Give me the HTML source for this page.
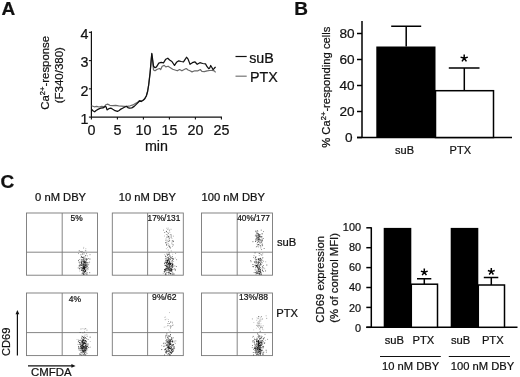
<!DOCTYPE html>
<html><head><meta charset="utf-8"><title>Figure</title>
<style>
html,body{margin:0;padding:0;background:#fff;}
body{width:520px;height:377px;overflow:hidden;font-family:"Liberation Sans",sans-serif;}
svg{display:block;will-change:transform;}
svg text{font-family:"Liberation Sans",sans-serif;fill:#111;stroke:#111;stroke-width:0.22px;}
</style></head><body>
<svg width="520" height="377" viewBox="0 0 520 377">
<rect width="520" height="377" fill="#fff"/>
<text x="1.6" y="14.6" font-size="19" text-anchor="start" font-weight="bold" >A</text>
<text x="294.2" y="14.6" font-size="19" text-anchor="start" font-weight="bold" >B</text>
<text x="0.6" y="188.2" font-size="19" text-anchor="start" font-weight="bold" >C</text>
<path d="M91.4 31.349999999999994 V117.1 H222" fill="none" stroke="#111" stroke-width="1.2"/>
<line x1="88.9" y1="117.1" x2="91.4" y2="117.1" stroke="#111" stroke-width="1.1"/>
<text x="88.4" y="123.8" font-size="14.3" text-anchor="end" font-weight="normal" >1</text>
<line x1="88.9" y1="88.85" x2="91.4" y2="88.85" stroke="#111" stroke-width="1.1"/>
<text x="88.4" y="95.55" font-size="14.3" text-anchor="end" font-weight="normal" >2</text>
<line x1="88.9" y1="60.599999999999994" x2="91.4" y2="60.599999999999994" stroke="#111" stroke-width="1.1"/>
<text x="88.4" y="67.3" font-size="14.3" text-anchor="end" font-weight="normal" >3</text>
<line x1="88.9" y1="32.349999999999994" x2="91.4" y2="32.349999999999994" stroke="#111" stroke-width="1.1"/>
<text x="88.4" y="39.05" font-size="14.3" text-anchor="end" font-weight="normal" >4</text>
<line x1="91.4" y1="117.1" x2="91.4" y2="119.6" stroke="#111" stroke-width="1.1"/>
<text x="91.4" y="135.0" font-size="14.3" text-anchor="middle" font-weight="normal" >0</text>
<line x1="117.4" y1="117.1" x2="117.4" y2="119.6" stroke="#111" stroke-width="1.1"/>
<text x="117.4" y="135.0" font-size="14.3" text-anchor="middle" font-weight="normal" >5</text>
<line x1="143.4" y1="117.1" x2="143.4" y2="119.6" stroke="#111" stroke-width="1.1"/>
<text x="143.4" y="135.0" font-size="14.3" text-anchor="middle" font-weight="normal" >10</text>
<line x1="169.4" y1="117.1" x2="169.4" y2="119.6" stroke="#111" stroke-width="1.1"/>
<text x="169.4" y="135.0" font-size="14.3" text-anchor="middle" font-weight="normal" >15</text>
<line x1="195.4" y1="117.1" x2="195.4" y2="119.6" stroke="#111" stroke-width="1.1"/>
<text x="195.4" y="135.0" font-size="14.3" text-anchor="middle" font-weight="normal" >20</text>
<line x1="221.4" y1="117.1" x2="221.4" y2="119.6" stroke="#111" stroke-width="1.1"/>
<text x="221.4" y="135.0" font-size="14.3" text-anchor="middle" font-weight="normal" >25</text>
<text x="156.4" y="151.0" font-size="14.3" text-anchor="middle" font-weight="normal" >min</text>
<text transform="translate(49.4,72.8) rotate(-90)" font-size="11.4" text-anchor="middle">Ca<tspan font-size="7.6" dy="-4.3">2+</tspan><tspan dy="4.3">-response</tspan></text>
<text transform="translate(63.4,75.2) rotate(-90)" font-size="11.5" text-anchor="middle">(F340/380)</text>
<path d="M91.5 105.8 L94.3 106.8 L96.7 106.4 L99 107 L101.8 106.4 L104.2 106.8 L105.9 104.7 L107.6 104.1 L109.9 105.3 L112.8 105.6 L115.7 105.3 L118.6 105.8 L121.5 106.1 L124.3 106.4 L127.2 106.4 L130.1 105.8 L133 104.9 L135.3 103.5 L137.6 102.2 L139.3 100.7 L141.1 101 L142.8 100.3 L144.5 98.9 L146.3 96.0 L147.6 91.5 L148.7 84.5 L150.1 72.7 L151.3 58.9 L151.8 54 L152.7 62 L153.5 70 L155 70.8 L157.3 69.2 L159.6 68.5 L160.7 69.5 L162.2 66.2 L164.2 65.4 L165.8 66.9 L168.1 66.2 L170.4 67.7 L172.7 69.2 L175 70 L177.3 70.8 L179.6 69.5 L181.9 70.8 L184.2 69.5 L186.2 68.5 L188.1 70 L190 70.8 L192 71.9 L194.8 70.8 L198 70.8 L200.3 69.5 L201.9 71.3 L204.3 71.6 L207.1 70.8 L209.9 70.5 L212.3 70.3 L214.3 70.8 L215.6 72.3" fill="none" stroke="#6a6a6a" stroke-width="1.2" stroke-linejoin="round"/>
<path d="M91.5 109.3 L93.2 111 L94.7 111.8 L96.1 110.5 L98.4 109.1 L100.7 108.2 L103 107.9 L105.1 106.4 L106.2 107 L107 109.9 L108.8 108.7 L111.1 108.2 L112.8 109.3 L115.1 110.7 L117.4 111.4 L119.2 110.5 L120.9 109.1 L122.6 108.2 L124.9 107 L126.7 106.4 L127.8 107.6 L129.5 108.2 L131.8 107.9 L134.2 106.4 L136.5 104.1 L138.8 101.8 L139.9 100.7 L141.3 101.5 L143.2 100.3 L144.8 98.7 L146.3 96.0 L147.6 91.5 L148.7 84.8 L150.1 72.9 L151.3 58.9 L151.8 53.4 L152.7 59.9 L153.5 66.2 L155 67.7 L156.5 66.9 L158.8 63.1 L161.2 62.3 L163.5 62.8 L165.8 59.2 L167.8 58.2 L169.6 60 L171.9 61.5 L174.5 65.4 L176.5 62.3 L178.8 60.8 L181.2 61.5 L183.5 61.8 L185.3 59.2 L186.5 57.2 L188.1 59.2 L189.6 63.1 L190 64.3 L192.4 62.7 L194.8 61.8 L197.2 64.3 L199.9 62.7 L202.7 63.5 L205.5 63.9 L207.1 66.7 L208.7 68.7 L209.7 67.9 L210.7 65.5 L211.9 67.5 L213.1 69.7 L214.3 68.3 L215.6 66.9" fill="none" stroke="#111" stroke-width="1.25" stroke-linejoin="round"/>
<line x1="235.5" y1="56.5" x2="246.7" y2="56.5" stroke="#111" stroke-width="1.2"/>
<line x1="235.5" y1="76.2" x2="246.7" y2="76.2" stroke="#777" stroke-width="1.2"/>
<text x="249.2" y="62.8" font-size="14.3" text-anchor="start" font-weight="normal" >suB</text>
<text x="250.0" y="82.4" font-size="14.3" text-anchor="start" font-weight="normal" >PTX</text>
<path d="M362 21 V137.5 M357 137.5 H512" fill="none" stroke="#000" stroke-width="1.5"/>
<line x1="357" y1="137.5" x2="362" y2="137.5" stroke="#000" stroke-width="1.5"/>
<text x="352.6" y="142.3" font-size="13.6" text-anchor="end" font-weight="normal" >0</text>
<line x1="357" y1="111.5" x2="362" y2="111.5" stroke="#000" stroke-width="1.5"/>
<text x="354.6" y="116.3" font-size="13.6" text-anchor="end" font-weight="normal" >20</text>
<line x1="357" y1="85.5" x2="362" y2="85.5" stroke="#000" stroke-width="1.5"/>
<text x="354.6" y="90.3" font-size="13.6" text-anchor="end" font-weight="normal" >40</text>
<line x1="357" y1="59.5" x2="362" y2="59.5" stroke="#000" stroke-width="1.5"/>
<text x="354.6" y="64.3" font-size="13.6" text-anchor="end" font-weight="normal" >60</text>
<line x1="357" y1="33.5" x2="362" y2="33.5" stroke="#000" stroke-width="1.5"/>
<text x="354.6" y="38.3" font-size="13.6" text-anchor="end" font-weight="normal" >80</text>
<rect x="376.3" y="46.5" width="59.2" height="91.0" fill="#000"/>
<rect x="435.5" y="90.7" width="58" height="46.8" fill="#fff" stroke="#000" stroke-width="1.5"/>
<path d="M406.2 46.5 V26.3 M391.2 26.3 H421.2" stroke="#000" stroke-width="1.5" fill="none"/>
<path d="M464.3 90.5 V68 M448.8 68 H479.5" stroke="#000" stroke-width="1.5" fill="none"/>
<path d="M464.2 58.3 L464.20 54.50 M464.2 58.3 L467.81 57.13 M464.2 58.3 L466.43 61.37 M464.2 58.3 L461.97 61.37 M464.2 58.3 L460.59 57.13 " stroke="#000" stroke-width="1.5" fill="none"/>
<text x="404.5" y="153.5" font-size="11" text-anchor="middle" font-weight="normal" >suB</text>
<text x="460.3" y="153.5" font-size="11" text-anchor="middle" font-weight="normal" >PTX</text>
<text transform="translate(329.8,87.2) rotate(-90)" font-size="11.25" text-anchor="middle">% Ca<tspan font-size="7.6" dy="-4.3">2+</tspan><tspan dy="4.3">-responding cells</tspan></text>
<rect x="26.5" y="213" width="71.0" height="62.19999999999999" fill="none" stroke="#787878" stroke-width="0.9"/>
<path d="M62.2 213 V275.2 M26.5 252.2 H97.5" stroke="#787878" stroke-width="0.9" fill="none"/>
<rect x="26.5" y="293" width="71.0" height="62.60000000000002" fill="none" stroke="#787878" stroke-width="0.9"/>
<path d="M62.2 293 V355.6 M26.5 332.6 H97.5" stroke="#787878" stroke-width="0.9" fill="none"/>
<rect x="112.3" y="213" width="71.00000000000001" height="62.19999999999999" fill="none" stroke="#787878" stroke-width="0.9"/>
<path d="M147.6 213 V275.2 M112.3 252.2 H183.3" stroke="#787878" stroke-width="0.9" fill="none"/>
<rect x="112.3" y="293" width="71.00000000000001" height="62.60000000000002" fill="none" stroke="#787878" stroke-width="0.9"/>
<path d="M147.6 293 V355.6 M112.3 332.6 H183.3" stroke="#787878" stroke-width="0.9" fill="none"/>
<rect x="201.5" y="213" width="71.0" height="62.19999999999999" fill="none" stroke="#787878" stroke-width="0.9"/>
<path d="M237.2 213 V275.2 M201.5 252.2 H272.5" stroke="#787878" stroke-width="0.9" fill="none"/>
<rect x="201.5" y="293" width="71.0" height="62.60000000000002" fill="none" stroke="#787878" stroke-width="0.9"/>
<path d="M237.2 293 V355.6 M201.5 332.6 H272.5" stroke="#787878" stroke-width="0.9" fill="none"/>
<text x="60.6" y="201.3" font-size="11.2" text-anchor="middle" font-weight="normal" >0 nM DBY</text>
<text x="147.3" y="201.3" font-size="11.2" text-anchor="middle" font-weight="normal" >10 nM DBY</text>
<text x="233.3" y="201.3" font-size="11.2" text-anchor="middle" font-weight="normal" >100 nM DBY</text>
<text x="76.6" y="220.9" font-size="8.4" text-anchor="middle" font-weight="normal" >5%</text>
<text x="163.9" y="220.9" font-size="8.3" text-anchor="middle" font-weight="normal" >17%/131</text>
<text x="253.6" y="220.9" font-size="8.3" text-anchor="middle" font-weight="normal" >40%/177</text>
<text x="75" y="301.8" font-size="8.5" text-anchor="middle" font-weight="normal" >4%</text>
<text x="164.3" y="300.0" font-size="8.6" text-anchor="middle" font-weight="normal" >9%/62</text>
<text x="253.5" y="300.0" font-size="8.5" text-anchor="middle" font-weight="normal" >13%/88</text>
<text x="277" y="245.5" font-size="11.2" text-anchor="start" font-weight="normal" >suB</text>
<text x="276.2" y="316.8" font-size="11.2" text-anchor="start" font-weight="normal" >PTX</text>
<path d="M17.4 355.5 V313" stroke="#111" stroke-width="1.2" fill="none"/><path d="M17.4 310 L15.5 314.2 H19.3 Z" fill="#111"/>
<path d="M28 365.9 H72.5" stroke="#111" stroke-width="1.2" fill="none"/><path d="M75.6 365.9 L71.4 364 V367.8 Z" fill="#111"/>
<text transform="translate(10.0,341.8) rotate(-90)" font-size="11.1" text-anchor="middle">CD69</text>
<text x="51.3" y="375.8" font-size="11.4" text-anchor="middle" font-weight="normal" >CMFDA</text>
<rect x="82.6" y="268.6" width="0.85" height="0.85" fill="#000" opacity="0.66"/>
<rect x="85.8" y="268.8" width="0.85" height="0.85" fill="#000" opacity="0.50"/>
<rect x="85.8" y="268.0" width="0.85" height="0.85" fill="#000" opacity="0.32"/>
<rect x="82.4" y="266.4" width="0.85" height="0.85" fill="#000" opacity="0.35"/>
<rect x="79.4" y="270.6" width="0.85" height="0.85" fill="#000" opacity="0.37"/>
<rect x="83.7" y="273.8" width="0.85" height="0.85" fill="#000" opacity="0.82"/>
<rect x="81.2" y="262.7" width="0.85" height="0.85" fill="#000" opacity="0.84"/>
<rect x="87.6" y="268.9" width="0.85" height="0.85" fill="#000" opacity="0.46"/>
<rect x="83.9" y="267.9" width="0.85" height="0.85" fill="#000" opacity="0.47"/>
<rect x="83.8" y="262.0" width="0.85" height="0.85" fill="#000" opacity="0.62"/>
<rect x="81.8" y="261.1" width="0.85" height="0.85" fill="#000" opacity="0.60"/>
<rect x="83.9" y="266.3" width="0.85" height="0.85" fill="#000" opacity="0.41"/>
<rect x="82.2" y="259.8" width="0.85" height="0.85" fill="#000" opacity="0.47"/>
<rect x="81.0" y="262.1" width="0.85" height="0.85" fill="#000" opacity="0.46"/>
<rect x="84.2" y="256.6" width="0.85" height="0.85" fill="#000" opacity="0.43"/>
<rect x="80.7" y="262.2" width="0.85" height="0.85" fill="#000" opacity="0.78"/>
<rect x="83.0" y="260.6" width="0.85" height="0.85" fill="#000" opacity="0.84"/>
<rect x="85.0" y="269.7" width="0.85" height="0.85" fill="#000" opacity="0.72"/>
<rect x="84.7" y="271.2" width="0.85" height="0.85" fill="#000" opacity="0.32"/>
<rect x="81.3" y="256.6" width="0.85" height="0.85" fill="#000" opacity="0.62"/>
<rect x="84.6" y="261.8" width="0.85" height="0.85" fill="#000" opacity="0.68"/>
<rect x="80.7" y="261.1" width="0.85" height="0.85" fill="#000" opacity="0.55"/>
<rect x="86.2" y="253.3" width="0.85" height="0.85" fill="#000" opacity="0.56"/>
<rect x="82.8" y="263.7" width="0.85" height="0.85" fill="#000" opacity="0.69"/>
<rect x="78.8" y="250.4" width="0.85" height="0.85" fill="#000" opacity="0.75"/>
<rect x="82.7" y="271.3" width="0.85" height="0.85" fill="#000" opacity="0.67"/>
<rect x="85.7" y="266.4" width="0.85" height="0.85" fill="#000" opacity="0.39"/>
<rect x="83.8" y="266.9" width="0.85" height="0.85" fill="#000" opacity="0.72"/>
<rect x="84.4" y="268.8" width="0.85" height="0.85" fill="#000" opacity="0.52"/>
<rect x="83.9" y="263.7" width="0.85" height="0.85" fill="#000" opacity="0.55"/>
<rect x="78.7" y="261.7" width="0.85" height="0.85" fill="#000" opacity="0.75"/>
<rect x="84.4" y="261.8" width="0.85" height="0.85" fill="#000" opacity="0.53"/>
<rect x="84.5" y="264.6" width="0.85" height="0.85" fill="#000" opacity="0.40"/>
<rect x="83.4" y="269.8" width="0.85" height="0.85" fill="#000" opacity="0.57"/>
<rect x="81.7" y="263.0" width="0.85" height="0.85" fill="#000" opacity="0.30"/>
<rect x="81.3" y="268.3" width="0.85" height="0.85" fill="#000" opacity="0.61"/>
<rect x="86.6" y="262.8" width="0.85" height="0.85" fill="#000" opacity="0.58"/>
<rect x="80.6" y="259.4" width="0.85" height="0.85" fill="#000" opacity="0.33"/>
<rect x="86.4" y="259.3" width="0.85" height="0.85" fill="#000" opacity="0.78"/>
<rect x="83.9" y="259.8" width="0.85" height="0.85" fill="#000" opacity="0.52"/>
<rect x="85.8" y="270.7" width="0.85" height="0.85" fill="#000" opacity="0.33"/>
<rect x="84.6" y="267.2" width="0.85" height="0.85" fill="#000" opacity="0.39"/>
<rect x="82.8" y="267.2" width="0.85" height="0.85" fill="#000" opacity="0.30"/>
<rect x="83.8" y="267.8" width="0.85" height="0.85" fill="#000" opacity="0.50"/>
<rect x="87.8" y="267.4" width="0.85" height="0.85" fill="#000" opacity="0.64"/>
<rect x="84.2" y="269.2" width="0.85" height="0.85" fill="#000" opacity="0.49"/>
<rect x="82.4" y="267.8" width="0.85" height="0.85" fill="#000" opacity="0.77"/>
<rect x="85.8" y="265.2" width="0.85" height="0.85" fill="#000" opacity="0.57"/>
<rect x="84.1" y="266.9" width="0.85" height="0.85" fill="#000" opacity="0.49"/>
<rect x="83.5" y="266.6" width="0.85" height="0.85" fill="#000" opacity="0.82"/>
<rect x="81.9" y="264.9" width="0.85" height="0.85" fill="#000" opacity="0.60"/>
<rect x="86.0" y="266.7" width="0.85" height="0.85" fill="#000" opacity="0.84"/>
<rect x="85.5" y="258.5" width="0.85" height="0.85" fill="#000" opacity="0.44"/>
<rect x="82.3" y="268.2" width="0.85" height="0.85" fill="#000" opacity="0.72"/>
<rect x="79.3" y="263.4" width="0.85" height="0.85" fill="#000" opacity="0.48"/>
<rect x="87.7" y="264.4" width="0.85" height="0.85" fill="#000" opacity="0.74"/>
<rect x="84.8" y="256.5" width="0.85" height="0.85" fill="#000" opacity="0.42"/>
<rect x="81.1" y="264.9" width="0.85" height="0.85" fill="#000" opacity="0.32"/>
<rect x="85.0" y="266.3" width="0.85" height="0.85" fill="#000" opacity="0.44"/>
<rect x="81.2" y="251.4" width="0.85" height="0.85" fill="#000" opacity="0.55"/>
<rect x="89.5" y="258.6" width="0.85" height="0.85" fill="#000" opacity="0.83"/>
<rect x="82.1" y="268.7" width="0.85" height="0.85" fill="#000" opacity="0.42"/>
<rect x="83.7" y="269.3" width="0.85" height="0.85" fill="#000" opacity="0.64"/>
<rect x="86.8" y="258.8" width="0.85" height="0.85" fill="#000" opacity="0.56"/>
<rect x="80.8" y="256.7" width="0.85" height="0.85" fill="#000" opacity="0.35"/>
<rect x="80.5" y="254.4" width="0.85" height="0.85" fill="#000" opacity="0.73"/>
<rect x="83.2" y="258.7" width="0.85" height="0.85" fill="#000" opacity="0.40"/>
<rect x="83.7" y="260.3" width="0.85" height="0.85" fill="#000" opacity="0.74"/>
<rect x="85.5" y="264.4" width="0.85" height="0.85" fill="#000" opacity="0.52"/>
<rect x="86.7" y="262.3" width="0.85" height="0.85" fill="#000" opacity="0.39"/>
<rect x="84.1" y="268.0" width="0.85" height="0.85" fill="#000" opacity="0.80"/>
<rect x="83.6" y="262.3" width="0.85" height="0.85" fill="#000" opacity="0.75"/>
<rect x="86.5" y="264.4" width="0.85" height="0.85" fill="#000" opacity="0.49"/>
<rect x="82.0" y="264.5" width="0.85" height="0.85" fill="#000" opacity="0.31"/>
<rect x="86.5" y="263.9" width="0.85" height="0.85" fill="#000" opacity="0.59"/>
<rect x="85.4" y="262.9" width="0.85" height="0.85" fill="#000" opacity="0.78"/>
<rect x="83.9" y="261.8" width="0.85" height="0.85" fill="#000" opacity="0.44"/>
<rect x="82.7" y="269.8" width="0.85" height="0.85" fill="#000" opacity="0.62"/>
<rect x="83.1" y="271.7" width="0.85" height="0.85" fill="#000" opacity="0.37"/>
<rect x="85.0" y="262.5" width="0.85" height="0.85" fill="#000" opacity="0.55"/>
<rect x="78.9" y="259.0" width="0.85" height="0.85" fill="#000" opacity="0.53"/>
<rect x="85.6" y="262.0" width="0.85" height="0.85" fill="#000" opacity="0.59"/>
<rect x="82.8" y="265.3" width="0.85" height="0.85" fill="#000" opacity="0.54"/>
<rect x="83.3" y="266.0" width="0.85" height="0.85" fill="#000" opacity="0.74"/>
<rect x="84.4" y="271.5" width="0.85" height="0.85" fill="#000" opacity="0.70"/>
<rect x="81.3" y="263.6" width="0.85" height="0.85" fill="#000" opacity="0.59"/>
<rect x="79.4" y="261.9" width="0.85" height="0.85" fill="#000" opacity="0.36"/>
<rect x="81.6" y="263.8" width="0.85" height="0.85" fill="#000" opacity="0.45"/>
<rect x="83.6" y="258.4" width="0.85" height="0.85" fill="#000" opacity="0.61"/>
<rect x="83.5" y="252.3" width="0.85" height="0.85" fill="#000" opacity="0.54"/>
<rect x="81.1" y="260.9" width="0.85" height="0.85" fill="#000" opacity="0.58"/>
<rect x="82.3" y="259.3" width="0.85" height="0.85" fill="#000" opacity="0.59"/>
<rect x="77.8" y="267.5" width="0.85" height="0.85" fill="#000" opacity="0.68"/>
<rect x="87.1" y="255.5" width="0.85" height="0.85" fill="#000" opacity="0.44"/>
<rect x="78.1" y="260.2" width="0.85" height="0.85" fill="#000" opacity="0.76"/>
<rect x="84.0" y="267.8" width="0.85" height="0.85" fill="#000" opacity="0.54"/>
<rect x="84.7" y="267.5" width="0.85" height="0.85" fill="#000" opacity="0.34"/>
<rect x="81.2" y="256.3" width="0.85" height="0.85" fill="#000" opacity="0.79"/>
<rect x="85.3" y="273.4" width="0.85" height="0.85" fill="#000" opacity="0.66"/>
<rect x="84.8" y="264.6" width="0.85" height="0.85" fill="#000" opacity="0.82"/>
<rect x="81.1" y="269.6" width="0.85" height="0.85" fill="#000" opacity="0.84"/>
<rect x="83.9" y="262.4" width="0.85" height="0.85" fill="#000" opacity="0.54"/>
<rect x="81.1" y="265.0" width="0.85" height="0.85" fill="#000" opacity="0.41"/>
<rect x="81.7" y="274.2" width="0.85" height="0.85" fill="#000" opacity="0.31"/>
<rect x="80.9" y="263.3" width="0.85" height="0.85" fill="#000" opacity="0.31"/>
<rect x="81.6" y="272.8" width="0.85" height="0.85" fill="#000" opacity="0.58"/>
<rect x="89.3" y="272.3" width="0.85" height="0.85" fill="#000" opacity="0.73"/>
<rect x="84.3" y="265.0" width="0.85" height="0.85" fill="#000" opacity="0.45"/>
<rect x="87.1" y="268.1" width="0.85" height="0.85" fill="#000" opacity="0.45"/>
<rect x="84.9" y="270.1" width="0.85" height="0.85" fill="#000" opacity="0.80"/>
<rect x="83.9" y="261.3" width="0.85" height="0.85" fill="#000" opacity="0.38"/>
<rect x="85.8" y="261.7" width="0.85" height="0.85" fill="#000" opacity="0.69"/>
<rect x="83.9" y="266.6" width="0.85" height="0.85" fill="#000" opacity="0.68"/>
<rect x="82.4" y="266.6" width="0.85" height="0.85" fill="#000" opacity="0.82"/>
<rect x="80.5" y="257.4" width="0.85" height="0.85" fill="#000" opacity="0.35"/>
<rect x="83.7" y="263.8" width="0.85" height="0.85" fill="#000" opacity="0.77"/>
<rect x="81.2" y="267.1" width="0.85" height="0.85" fill="#000" opacity="0.60"/>
<rect x="84.8" y="263.4" width="0.85" height="0.85" fill="#000" opacity="0.37"/>
<rect x="81.5" y="264.8" width="0.85" height="0.85" fill="#000" opacity="0.36"/>
<rect x="83.6" y="267.1" width="0.85" height="0.85" fill="#000" opacity="0.41"/>
<rect x="82.5" y="270.2" width="0.85" height="0.85" fill="#000" opacity="0.72"/>
<rect x="82.5" y="272.3" width="0.85" height="0.85" fill="#000" opacity="0.40"/>
<rect x="82.9" y="266.4" width="0.85" height="0.85" fill="#000" opacity="0.44"/>
<rect x="86.9" y="266.4" width="0.85" height="0.85" fill="#000" opacity="0.60"/>
<rect x="84.2" y="271.8" width="0.85" height="0.85" fill="#000" opacity="0.81"/>
<rect x="86.5" y="272.4" width="0.85" height="0.85" fill="#000" opacity="0.54"/>
<rect x="78.8" y="265.9" width="0.85" height="0.85" fill="#000" opacity="0.52"/>
<rect x="79.7" y="265.1" width="0.85" height="0.85" fill="#000" opacity="0.84"/>
<rect x="82.3" y="257.3" width="0.85" height="0.85" fill="#000" opacity="0.52"/>
<rect x="82.8" y="267.1" width="0.85" height="0.85" fill="#000" opacity="0.37"/>
<rect x="86.6" y="269.7" width="0.85" height="0.85" fill="#000" opacity="0.44"/>
<rect x="83.7" y="267.7" width="0.85" height="0.85" fill="#000" opacity="0.76"/>
<rect x="85.6" y="259.0" width="0.85" height="0.85" fill="#000" opacity="0.46"/>
<rect x="83.3" y="270.5" width="0.85" height="0.85" fill="#000" opacity="0.55"/>
<rect x="84.6" y="270.9" width="0.85" height="0.85" fill="#000" opacity="0.44"/>
<rect x="89.2" y="261.7" width="0.85" height="0.85" fill="#000" opacity="0.60"/>
<rect x="82.4" y="270.7" width="0.85" height="0.85" fill="#000" opacity="0.30"/>
<rect x="81.3" y="270.1" width="0.85" height="0.85" fill="#000" opacity="0.58"/>
<rect x="84.0" y="272.3" width="0.85" height="0.85" fill="#000" opacity="0.30"/>
<rect x="83.1" y="268.1" width="0.85" height="0.85" fill="#000" opacity="0.52"/>
<rect x="83.7" y="265.8" width="0.85" height="0.85" fill="#000" opacity="0.47"/>
<rect x="83.5" y="273.4" width="0.85" height="0.85" fill="#000" opacity="0.59"/>
<rect x="83.2" y="256.7" width="0.85" height="0.85" fill="#000" opacity="0.69"/>
<rect x="84.9" y="261.4" width="0.85" height="0.85" fill="#000" opacity="0.48"/>
<rect x="84.5" y="265.2" width="0.85" height="0.85" fill="#000" opacity="0.70"/>
<rect x="82.8" y="264.1" width="0.85" height="0.85" fill="#000" opacity="0.76"/>
<rect x="85.7" y="260.2" width="0.85" height="0.85" fill="#000" opacity="0.70"/>
<rect x="83.7" y="262.5" width="0.85" height="0.85" fill="#000" opacity="0.59"/>
<rect x="78.8" y="265.2" width="0.85" height="0.85" fill="#000" opacity="0.74"/>
<rect x="84.6" y="258.5" width="0.85" height="0.85" fill="#000" opacity="0.79"/>
<rect x="81.8" y="257.1" width="0.85" height="0.85" fill="#000" opacity="0.43"/>
<rect x="84.4" y="266.1" width="0.85" height="0.85" fill="#000" opacity="0.50"/>
<rect x="86.7" y="272.5" width="0.85" height="0.85" fill="#000" opacity="0.61"/>
<rect x="81.0" y="259.4" width="0.85" height="0.85" fill="#000" opacity="0.67"/>
<rect x="83.0" y="265.5" width="0.85" height="0.85" fill="#000" opacity="0.74"/>
<rect x="83.2" y="258.4" width="0.85" height="0.85" fill="#000" opacity="0.59"/>
<rect x="82.7" y="263.6" width="0.85" height="0.85" fill="#000" opacity="0.71"/>
<rect x="83.2" y="267.9" width="0.85" height="0.85" fill="#000" opacity="0.45"/>
<rect x="83.0" y="261.5" width="0.85" height="0.85" fill="#000" opacity="0.71"/>
<rect x="85.9" y="264.4" width="0.85" height="0.85" fill="#000" opacity="0.51"/>
<rect x="79.7" y="266.7" width="0.85" height="0.85" fill="#000" opacity="0.72"/>
<rect x="80.8" y="259.7" width="0.85" height="0.85" fill="#000" opacity="0.34"/>
<rect x="84.3" y="269.2" width="0.85" height="0.85" fill="#000" opacity="0.71"/>
<rect x="82.2" y="272.8" width="0.85" height="0.85" fill="#000" opacity="0.31"/>
<rect x="84.9" y="267.3" width="0.85" height="0.85" fill="#000" opacity="0.67"/>
<rect x="82.0" y="257.1" width="0.85" height="0.85" fill="#000" opacity="0.46"/>
<rect x="80.6" y="264.8" width="0.85" height="0.85" fill="#000" opacity="0.56"/>
<rect x="86.8" y="274.1" width="0.85" height="0.85" fill="#000" opacity="0.41"/>
<rect x="88.5" y="263.6" width="0.85" height="0.85" fill="#000" opacity="0.31"/>
<rect x="79.1" y="268.3" width="0.85" height="0.85" fill="#000" opacity="0.83"/>
<rect x="81.5" y="267.0" width="0.85" height="0.85" fill="#000" opacity="0.42"/>
<rect x="84.7" y="264.1" width="0.85" height="0.85" fill="#000" opacity="0.62"/>
<rect x="85.0" y="271.2" width="0.85" height="0.85" fill="#000" opacity="0.82"/>
<rect x="86.1" y="273.7" width="0.85" height="0.85" fill="#000" opacity="0.58"/>
<rect x="85.9" y="259.4" width="0.85" height="0.85" fill="#000" opacity="0.43"/>
<rect x="85.3" y="261.4" width="0.85" height="0.85" fill="#000" opacity="0.31"/>
<rect x="85.9" y="265.7" width="0.85" height="0.85" fill="#000" opacity="0.55"/>
<rect x="82.8" y="268.6" width="0.85" height="0.85" fill="#000" opacity="0.49"/>
<rect x="87.0" y="265.6" width="0.85" height="0.85" fill="#000" opacity="0.76"/>
<rect x="82.1" y="252.9" width="0.85" height="0.85" fill="#000" opacity="0.46"/>
<rect x="81.6" y="269.8" width="0.85" height="0.85" fill="#000" opacity="0.85"/>
<rect x="81.4" y="262.5" width="0.85" height="0.85" fill="#000" opacity="0.54"/>
<rect x="83.1" y="267.4" width="0.85" height="0.85" fill="#000" opacity="0.36"/>
<rect x="84.2" y="261.3" width="0.85" height="0.85" fill="#000" opacity="0.81"/>
<rect x="83.2" y="270.2" width="0.85" height="0.85" fill="#000" opacity="0.58"/>
<rect x="84.0" y="270.9" width="0.85" height="0.85" fill="#000" opacity="0.83"/>
<rect x="86.3" y="258.2" width="0.85" height="0.85" fill="#000" opacity="0.65"/>
<rect x="87.9" y="258.1" width="0.85" height="0.85" fill="#000" opacity="0.60"/>
<rect x="83.1" y="263.6" width="0.85" height="0.85" fill="#000" opacity="0.70"/>
<rect x="79.5" y="268.5" width="0.85" height="0.85" fill="#000" opacity="0.65"/>
<rect x="83.0" y="267.4" width="0.85" height="0.85" fill="#000" opacity="0.81"/>
<rect x="85.0" y="270.4" width="0.85" height="0.85" fill="#000" opacity="0.49"/>
<rect x="85.0" y="264.8" width="0.85" height="0.85" fill="#000" opacity="0.66"/>
<rect x="82.3" y="272.8" width="0.85" height="0.85" fill="#000" opacity="0.52"/>
<rect x="83.9" y="268.6" width="0.85" height="0.85" fill="#000" opacity="0.41"/>
<rect x="85.4" y="261.6" width="0.85" height="0.85" fill="#000" opacity="0.42"/>
<rect x="89.6" y="254.3" width="0.85" height="0.85" fill="#000" opacity="0.55"/>
<rect x="84.2" y="268.5" width="0.85" height="0.85" fill="#000" opacity="0.35"/>
<rect x="82.7" y="267.7" width="0.85" height="0.85" fill="#000" opacity="0.43"/>
<rect x="83.0" y="273.3" width="0.85" height="0.85" fill="#000" opacity="0.79"/>
<rect x="83.2" y="259.3" width="0.85" height="0.85" fill="#000" opacity="0.53"/>
<rect x="81.0" y="264.6" width="0.85" height="0.85" fill="#000" opacity="0.49"/>
<rect x="84.9" y="267.3" width="0.85" height="0.85" fill="#000" opacity="0.83"/>
<rect x="85.1" y="270.5" width="0.85" height="0.85" fill="#000" opacity="0.65"/>
<rect x="84.2" y="262.3" width="0.85" height="0.85" fill="#000" opacity="0.45"/>
<rect x="83.2" y="271.6" width="0.85" height="0.85" fill="#000" opacity="0.55"/>
<rect x="87.5" y="262.2" width="0.85" height="0.85" fill="#000" opacity="0.78"/>
<rect x="83.8" y="265.7" width="0.85" height="0.85" fill="#000" opacity="0.69"/>
<rect x="85.3" y="261.4" width="0.85" height="0.85" fill="#000" opacity="0.62"/>
<rect x="85.5" y="265.5" width="0.85" height="0.85" fill="#000" opacity="0.81"/>
<rect x="85.3" y="255.0" width="0.85" height="0.85" fill="#000" opacity="0.83"/>
<rect x="83.2" y="268.4" width="0.85" height="0.85" fill="#000" opacity="0.38"/>
<rect x="79.8" y="264.2" width="0.85" height="0.85" fill="#000" opacity="0.82"/>
<rect x="82.6" y="257.0" width="0.85" height="0.85" fill="#000" opacity="0.72"/>
<rect x="80.4" y="267.5" width="0.85" height="0.85" fill="#000" opacity="0.32"/>
<rect x="83.5" y="261.2" width="0.85" height="0.85" fill="#000" opacity="0.81"/>
<rect x="82.0" y="261.5" width="0.85" height="0.85" fill="#000" opacity="0.37"/>
<rect x="83.2" y="274.0" width="0.85" height="0.85" fill="#000" opacity="0.68"/>
<rect x="83.9" y="267.0" width="0.85" height="0.85" fill="#000" opacity="0.59"/>
<rect x="81.2" y="262.5" width="0.85" height="0.85" fill="#000" opacity="0.42"/>
<rect x="82.9" y="265.0" width="0.85" height="0.85" fill="#000" opacity="0.47"/>
<rect x="78.1" y="253.2" width="0.85" height="0.85" fill="#000" opacity="0.48"/>
<rect x="85.4" y="248.3" width="0.85" height="0.85" fill="#000" opacity="0.33"/>
<rect x="83.0" y="248.1" width="0.85" height="0.85" fill="#000" opacity="0.26"/>
<rect x="80.2" y="251.1" width="0.85" height="0.85" fill="#000" opacity="0.40"/>
<rect x="84.9" y="249.9" width="0.85" height="0.85" fill="#000" opacity="0.26"/>
<rect x="82.3" y="254.1" width="0.85" height="0.85" fill="#000" opacity="0.49"/>
<rect x="83.3" y="246.9" width="0.85" height="0.85" fill="#000" opacity="0.32"/>
<rect x="85.4" y="250.4" width="0.85" height="0.85" fill="#000" opacity="0.54"/>
<rect x="83.7" y="253.5" width="0.85" height="0.85" fill="#000" opacity="0.52"/>
<rect x="82.1" y="251.1" width="0.85" height="0.85" fill="#000" opacity="0.33"/>
<rect x="165.1" y="269.4" width="0.85" height="0.85" fill="#000" opacity="0.82"/>
<rect x="170.6" y="269.8" width="0.85" height="0.85" fill="#000" opacity="0.42"/>
<rect x="170.4" y="264.5" width="0.85" height="0.85" fill="#000" opacity="0.33"/>
<rect x="171.5" y="267.2" width="0.85" height="0.85" fill="#000" opacity="0.79"/>
<rect x="172.3" y="258.5" width="0.85" height="0.85" fill="#000" opacity="0.85"/>
<rect x="171.2" y="262.8" width="0.85" height="0.85" fill="#000" opacity="0.40"/>
<rect x="173.2" y="261.1" width="0.85" height="0.85" fill="#000" opacity="0.32"/>
<rect x="167.4" y="260.0" width="0.85" height="0.85" fill="#000" opacity="0.51"/>
<rect x="167.9" y="268.2" width="0.85" height="0.85" fill="#000" opacity="0.30"/>
<rect x="168.3" y="270.5" width="0.85" height="0.85" fill="#000" opacity="0.83"/>
<rect x="169.5" y="270.4" width="0.85" height="0.85" fill="#000" opacity="0.75"/>
<rect x="170.1" y="259.3" width="0.85" height="0.85" fill="#000" opacity="0.33"/>
<rect x="166.0" y="266.0" width="0.85" height="0.85" fill="#000" opacity="0.81"/>
<rect x="169.8" y="270.3" width="0.85" height="0.85" fill="#000" opacity="0.79"/>
<rect x="171.7" y="266.2" width="0.85" height="0.85" fill="#000" opacity="0.75"/>
<rect x="168.9" y="263.3" width="0.85" height="0.85" fill="#000" opacity="0.32"/>
<rect x="174.8" y="270.2" width="0.85" height="0.85" fill="#000" opacity="0.44"/>
<rect x="168.7" y="252.2" width="0.85" height="0.85" fill="#000" opacity="0.49"/>
<rect x="167.1" y="261.9" width="0.85" height="0.85" fill="#000" opacity="0.69"/>
<rect x="167.9" y="269.4" width="0.85" height="0.85" fill="#000" opacity="0.30"/>
<rect x="164.2" y="254.3" width="0.85" height="0.85" fill="#000" opacity="0.31"/>
<rect x="169.1" y="271.8" width="0.85" height="0.85" fill="#000" opacity="0.83"/>
<rect x="171.5" y="263.3" width="0.85" height="0.85" fill="#000" opacity="0.44"/>
<rect x="165.7" y="268.0" width="0.85" height="0.85" fill="#000" opacity="0.81"/>
<rect x="168.4" y="253.9" width="0.85" height="0.85" fill="#000" opacity="0.73"/>
<rect x="166.8" y="261.7" width="0.85" height="0.85" fill="#000" opacity="0.48"/>
<rect x="165.5" y="273.0" width="0.85" height="0.85" fill="#000" opacity="0.34"/>
<rect x="168.8" y="267.2" width="0.85" height="0.85" fill="#000" opacity="0.32"/>
<rect x="166.4" y="263.3" width="0.85" height="0.85" fill="#000" opacity="0.84"/>
<rect x="175.2" y="253.1" width="0.85" height="0.85" fill="#000" opacity="0.45"/>
<rect x="169.9" y="266.4" width="0.85" height="0.85" fill="#000" opacity="0.57"/>
<rect x="168.0" y="258.7" width="0.85" height="0.85" fill="#000" opacity="0.43"/>
<rect x="165.3" y="269.2" width="0.85" height="0.85" fill="#000" opacity="0.67"/>
<rect x="168.7" y="253.4" width="0.85" height="0.85" fill="#000" opacity="0.67"/>
<rect x="172.8" y="272.9" width="0.85" height="0.85" fill="#000" opacity="0.46"/>
<rect x="166.2" y="262.6" width="0.85" height="0.85" fill="#000" opacity="0.71"/>
<rect x="169.5" y="269.3" width="0.85" height="0.85" fill="#000" opacity="0.43"/>
<rect x="166.5" y="262.5" width="0.85" height="0.85" fill="#000" opacity="0.52"/>
<rect x="172.2" y="264.7" width="0.85" height="0.85" fill="#000" opacity="0.43"/>
<rect x="170.3" y="256.8" width="0.85" height="0.85" fill="#000" opacity="0.85"/>
<rect x="171.4" y="269.1" width="0.85" height="0.85" fill="#000" opacity="0.75"/>
<rect x="172.3" y="253.8" width="0.85" height="0.85" fill="#000" opacity="0.32"/>
<rect x="168.4" y="267.9" width="0.85" height="0.85" fill="#000" opacity="0.40"/>
<rect x="172.6" y="263.7" width="0.85" height="0.85" fill="#000" opacity="0.81"/>
<rect x="164.8" y="273.7" width="0.85" height="0.85" fill="#000" opacity="0.55"/>
<rect x="170.1" y="264.1" width="0.85" height="0.85" fill="#000" opacity="0.63"/>
<rect x="167.3" y="262.1" width="0.85" height="0.85" fill="#000" opacity="0.50"/>
<rect x="170.0" y="268.1" width="0.85" height="0.85" fill="#000" opacity="0.44"/>
<rect x="165.4" y="259.9" width="0.85" height="0.85" fill="#000" opacity="0.41"/>
<rect x="171.4" y="265.4" width="0.85" height="0.85" fill="#000" opacity="0.67"/>
<rect x="169.8" y="269.8" width="0.85" height="0.85" fill="#000" opacity="0.41"/>
<rect x="169.8" y="257.7" width="0.85" height="0.85" fill="#000" opacity="0.33"/>
<rect x="171.1" y="268.6" width="0.85" height="0.85" fill="#000" opacity="0.60"/>
<rect x="168.0" y="263.0" width="0.85" height="0.85" fill="#000" opacity="0.39"/>
<rect x="167.8" y="259.2" width="0.85" height="0.85" fill="#000" opacity="0.46"/>
<rect x="167.4" y="272.2" width="0.85" height="0.85" fill="#000" opacity="0.50"/>
<rect x="163.8" y="271.0" width="0.85" height="0.85" fill="#000" opacity="0.85"/>
<rect x="167.5" y="268.0" width="0.85" height="0.85" fill="#000" opacity="0.70"/>
<rect x="168.9" y="265.6" width="0.85" height="0.85" fill="#000" opacity="0.80"/>
<rect x="164.0" y="270.1" width="0.85" height="0.85" fill="#000" opacity="0.52"/>
<rect x="171.2" y="260.5" width="0.85" height="0.85" fill="#000" opacity="0.39"/>
<rect x="172.5" y="265.7" width="0.85" height="0.85" fill="#000" opacity="0.65"/>
<rect x="169.9" y="263.6" width="0.85" height="0.85" fill="#000" opacity="0.64"/>
<rect x="166.4" y="270.2" width="0.85" height="0.85" fill="#000" opacity="0.38"/>
<rect x="168.1" y="272.1" width="0.85" height="0.85" fill="#000" opacity="0.81"/>
<rect x="171.4" y="269.4" width="0.85" height="0.85" fill="#000" opacity="0.74"/>
<rect x="170.7" y="264.2" width="0.85" height="0.85" fill="#000" opacity="0.37"/>
<rect x="176.2" y="259.3" width="0.85" height="0.85" fill="#000" opacity="0.57"/>
<rect x="175.1" y="269.5" width="0.85" height="0.85" fill="#000" opacity="0.51"/>
<rect x="172.1" y="260.3" width="0.85" height="0.85" fill="#000" opacity="0.75"/>
<rect x="171.5" y="273.9" width="0.85" height="0.85" fill="#000" opacity="0.42"/>
<rect x="164.2" y="271.6" width="0.85" height="0.85" fill="#000" opacity="0.76"/>
<rect x="169.6" y="268.8" width="0.85" height="0.85" fill="#000" opacity="0.52"/>
<rect x="166.0" y="264.3" width="0.85" height="0.85" fill="#000" opacity="0.37"/>
<rect x="169.5" y="264.0" width="0.85" height="0.85" fill="#000" opacity="0.61"/>
<rect x="168.8" y="263.3" width="0.85" height="0.85" fill="#000" opacity="0.76"/>
<rect x="171.7" y="270.5" width="0.85" height="0.85" fill="#000" opacity="0.60"/>
<rect x="167.1" y="261.3" width="0.85" height="0.85" fill="#000" opacity="0.53"/>
<rect x="166.1" y="261.9" width="0.85" height="0.85" fill="#000" opacity="0.66"/>
<rect x="165.9" y="267.1" width="0.85" height="0.85" fill="#000" opacity="0.31"/>
<rect x="166.3" y="260.3" width="0.85" height="0.85" fill="#000" opacity="0.43"/>
<rect x="169.2" y="254.6" width="0.85" height="0.85" fill="#000" opacity="0.55"/>
<rect x="170.2" y="271.1" width="0.85" height="0.85" fill="#000" opacity="0.36"/>
<rect x="170.9" y="269.6" width="0.85" height="0.85" fill="#000" opacity="0.35"/>
<rect x="165.6" y="267.6" width="0.85" height="0.85" fill="#000" opacity="0.32"/>
<rect x="168.0" y="263.1" width="0.85" height="0.85" fill="#000" opacity="0.70"/>
<rect x="169.4" y="257.9" width="0.85" height="0.85" fill="#000" opacity="0.33"/>
<rect x="166.0" y="264.9" width="0.85" height="0.85" fill="#000" opacity="0.82"/>
<rect x="172.6" y="273.9" width="0.85" height="0.85" fill="#000" opacity="0.85"/>
<rect x="168.2" y="254.0" width="0.85" height="0.85" fill="#000" opacity="0.41"/>
<rect x="172.2" y="264.2" width="0.85" height="0.85" fill="#000" opacity="0.83"/>
<rect x="170.3" y="263.2" width="0.85" height="0.85" fill="#000" opacity="0.73"/>
<rect x="169.8" y="264.1" width="0.85" height="0.85" fill="#000" opacity="0.49"/>
<rect x="168.9" y="261.5" width="0.85" height="0.85" fill="#000" opacity="0.79"/>
<rect x="170.9" y="270.6" width="0.85" height="0.85" fill="#000" opacity="0.81"/>
<rect x="169.4" y="269.5" width="0.85" height="0.85" fill="#000" opacity="0.58"/>
<rect x="168.5" y="266.5" width="0.85" height="0.85" fill="#000" opacity="0.40"/>
<rect x="166.2" y="253.5" width="0.85" height="0.85" fill="#000" opacity="0.39"/>
<rect x="169.1" y="262.1" width="0.85" height="0.85" fill="#000" opacity="0.59"/>
<rect x="167.0" y="260.7" width="0.85" height="0.85" fill="#000" opacity="0.78"/>
<rect x="165.2" y="262.3" width="0.85" height="0.85" fill="#000" opacity="0.79"/>
<rect x="166.8" y="260.6" width="0.85" height="0.85" fill="#000" opacity="0.74"/>
<rect x="166.4" y="262.4" width="0.85" height="0.85" fill="#000" opacity="0.72"/>
<rect x="167.1" y="266.3" width="0.85" height="0.85" fill="#000" opacity="0.71"/>
<rect x="173.9" y="268.3" width="0.85" height="0.85" fill="#000" opacity="0.44"/>
<rect x="165.1" y="260.4" width="0.85" height="0.85" fill="#000" opacity="0.47"/>
<rect x="169.6" y="265.0" width="0.85" height="0.85" fill="#000" opacity="0.38"/>
<rect x="166.5" y="260.7" width="0.85" height="0.85" fill="#000" opacity="0.58"/>
<rect x="170.0" y="263.1" width="0.85" height="0.85" fill="#000" opacity="0.42"/>
<rect x="168.4" y="264.0" width="0.85" height="0.85" fill="#000" opacity="0.30"/>
<rect x="168.0" y="267.2" width="0.85" height="0.85" fill="#000" opacity="0.50"/>
<rect x="169.4" y="272.8" width="0.85" height="0.85" fill="#000" opacity="0.62"/>
<rect x="170.0" y="273.0" width="0.85" height="0.85" fill="#000" opacity="0.56"/>
<rect x="168.9" y="268.4" width="0.85" height="0.85" fill="#000" opacity="0.35"/>
<rect x="165.0" y="255.7" width="0.85" height="0.85" fill="#000" opacity="0.73"/>
<rect x="166.9" y="267.7" width="0.85" height="0.85" fill="#000" opacity="0.31"/>
<rect x="166.5" y="258.9" width="0.85" height="0.85" fill="#000" opacity="0.49"/>
<rect x="166.9" y="259.9" width="0.85" height="0.85" fill="#000" opacity="0.82"/>
<rect x="168.6" y="260.5" width="0.85" height="0.85" fill="#000" opacity="0.80"/>
<rect x="172.2" y="267.0" width="0.85" height="0.85" fill="#000" opacity="0.52"/>
<rect x="168.9" y="267.1" width="0.85" height="0.85" fill="#000" opacity="0.73"/>
<rect x="172.5" y="265.6" width="0.85" height="0.85" fill="#000" opacity="0.82"/>
<rect x="170.0" y="268.1" width="0.85" height="0.85" fill="#000" opacity="0.63"/>
<rect x="164.6" y="264.6" width="0.85" height="0.85" fill="#000" opacity="0.75"/>
<rect x="169.9" y="269.6" width="0.85" height="0.85" fill="#000" opacity="0.47"/>
<rect x="174.6" y="268.8" width="0.85" height="0.85" fill="#000" opacity="0.73"/>
<rect x="168.7" y="264.3" width="0.85" height="0.85" fill="#000" opacity="0.76"/>
<rect x="168.7" y="258.3" width="0.85" height="0.85" fill="#000" opacity="0.71"/>
<rect x="166.8" y="266.3" width="0.85" height="0.85" fill="#000" opacity="0.36"/>
<rect x="168.9" y="266.7" width="0.85" height="0.85" fill="#000" opacity="0.48"/>
<rect x="168.8" y="255.8" width="0.85" height="0.85" fill="#000" opacity="0.76"/>
<rect x="168.3" y="260.4" width="0.85" height="0.85" fill="#000" opacity="0.60"/>
<rect x="164.1" y="269.1" width="0.85" height="0.85" fill="#000" opacity="0.59"/>
<rect x="168.4" y="273.6" width="0.85" height="0.85" fill="#000" opacity="0.83"/>
<rect x="171.0" y="265.4" width="0.85" height="0.85" fill="#000" opacity="0.43"/>
<rect x="168.7" y="259.7" width="0.85" height="0.85" fill="#000" opacity="0.78"/>
<rect x="167.8" y="268.9" width="0.85" height="0.85" fill="#000" opacity="0.80"/>
<rect x="165.8" y="258.3" width="0.85" height="0.85" fill="#000" opacity="0.67"/>
<rect x="172.0" y="264.1" width="0.85" height="0.85" fill="#000" opacity="0.76"/>
<rect x="166.9" y="253.8" width="0.85" height="0.85" fill="#000" opacity="0.54"/>
<rect x="168.2" y="257.3" width="0.85" height="0.85" fill="#000" opacity="0.47"/>
<rect x="169.8" y="273.1" width="0.85" height="0.85" fill="#000" opacity="0.34"/>
<rect x="170.2" y="263.2" width="0.85" height="0.85" fill="#000" opacity="0.31"/>
<rect x="174.0" y="273.6" width="0.85" height="0.85" fill="#000" opacity="0.49"/>
<rect x="169.2" y="266.1" width="0.85" height="0.85" fill="#000" opacity="0.32"/>
<rect x="167.3" y="257.0" width="0.85" height="0.85" fill="#000" opacity="0.68"/>
<rect x="168.7" y="262.8" width="0.85" height="0.85" fill="#000" opacity="0.62"/>
<rect x="165.3" y="273.4" width="0.85" height="0.85" fill="#000" opacity="0.75"/>
<rect x="169.6" y="263.6" width="0.85" height="0.85" fill="#000" opacity="0.78"/>
<rect x="174.8" y="257.6" width="0.85" height="0.85" fill="#000" opacity="0.36"/>
<rect x="169.2" y="267.8" width="0.85" height="0.85" fill="#000" opacity="0.32"/>
<rect x="171.9" y="256.0" width="0.85" height="0.85" fill="#000" opacity="0.65"/>
<rect x="170.7" y="257.4" width="0.85" height="0.85" fill="#000" opacity="0.46"/>
<rect x="169.9" y="266.6" width="0.85" height="0.85" fill="#000" opacity="0.72"/>
<rect x="169.5" y="270.1" width="0.85" height="0.85" fill="#000" opacity="0.53"/>
<rect x="171.0" y="265.6" width="0.85" height="0.85" fill="#000" opacity="0.46"/>
<rect x="168.2" y="259.4" width="0.85" height="0.85" fill="#000" opacity="0.48"/>
<rect x="172.1" y="263.4" width="0.85" height="0.85" fill="#000" opacity="0.77"/>
<rect x="168.3" y="264.0" width="0.85" height="0.85" fill="#000" opacity="0.53"/>
<rect x="164.2" y="269.0" width="0.85" height="0.85" fill="#000" opacity="0.49"/>
<rect x="167.8" y="257.8" width="0.85" height="0.85" fill="#000" opacity="0.42"/>
<rect x="169.6" y="263.0" width="0.85" height="0.85" fill="#000" opacity="0.75"/>
<rect x="168.9" y="265.3" width="0.85" height="0.85" fill="#000" opacity="0.41"/>
<rect x="172.2" y="265.2" width="0.85" height="0.85" fill="#000" opacity="0.57"/>
<rect x="169.3" y="261.3" width="0.85" height="0.85" fill="#000" opacity="0.57"/>
<rect x="165.7" y="274.3" width="0.85" height="0.85" fill="#000" opacity="0.44"/>
<rect x="171.0" y="263.3" width="0.85" height="0.85" fill="#000" opacity="0.42"/>
<rect x="167.7" y="258.3" width="0.85" height="0.85" fill="#000" opacity="0.36"/>
<rect x="168.0" y="263.1" width="0.85" height="0.85" fill="#000" opacity="0.73"/>
<rect x="167.1" y="255.0" width="0.85" height="0.85" fill="#000" opacity="0.65"/>
<rect x="167.0" y="269.8" width="0.85" height="0.85" fill="#000" opacity="0.52"/>
<rect x="169.8" y="263.4" width="0.85" height="0.85" fill="#000" opacity="0.79"/>
<rect x="170.7" y="265.6" width="0.85" height="0.85" fill="#000" opacity="0.44"/>
<rect x="171.6" y="260.9" width="0.85" height="0.85" fill="#000" opacity="0.51"/>
<rect x="170.4" y="262.1" width="0.85" height="0.85" fill="#000" opacity="0.55"/>
<rect x="164.0" y="263.0" width="0.85" height="0.85" fill="#000" opacity="0.71"/>
<rect x="167.2" y="260.6" width="0.85" height="0.85" fill="#000" opacity="0.48"/>
<rect x="166.3" y="256.6" width="0.85" height="0.85" fill="#000" opacity="0.39"/>
<rect x="164.2" y="268.9" width="0.85" height="0.85" fill="#000" opacity="0.62"/>
<rect x="171.1" y="269.8" width="0.85" height="0.85" fill="#000" opacity="0.79"/>
<rect x="168.9" y="268.9" width="0.85" height="0.85" fill="#000" opacity="0.47"/>
<rect x="167.2" y="253.9" width="0.85" height="0.85" fill="#000" opacity="0.39"/>
<rect x="170.0" y="268.8" width="0.85" height="0.85" fill="#000" opacity="0.48"/>
<rect x="167.1" y="264.5" width="0.85" height="0.85" fill="#000" opacity="0.48"/>
<rect x="168.6" y="262.2" width="0.85" height="0.85" fill="#000" opacity="0.83"/>
<rect x="171.1" y="268.5" width="0.85" height="0.85" fill="#000" opacity="0.84"/>
<rect x="170.1" y="255.6" width="0.85" height="0.85" fill="#000" opacity="0.54"/>
<rect x="170.2" y="273.1" width="0.85" height="0.85" fill="#000" opacity="0.36"/>
<rect x="169.6" y="270.7" width="0.85" height="0.85" fill="#000" opacity="0.32"/>
<rect x="164.7" y="271.3" width="0.85" height="0.85" fill="#000" opacity="0.68"/>
<rect x="164.7" y="265.0" width="0.85" height="0.85" fill="#000" opacity="0.55"/>
<rect x="171.3" y="271.3" width="0.85" height="0.85" fill="#000" opacity="0.52"/>
<rect x="165.4" y="268.3" width="0.85" height="0.85" fill="#000" opacity="0.71"/>
<rect x="167.0" y="267.1" width="0.85" height="0.85" fill="#000" opacity="0.70"/>
<rect x="172.4" y="257.9" width="0.85" height="0.85" fill="#000" opacity="0.69"/>
<rect x="171.4" y="257.8" width="0.85" height="0.85" fill="#000" opacity="0.65"/>
<rect x="166.4" y="266.5" width="0.85" height="0.85" fill="#000" opacity="0.65"/>
<rect x="171.3" y="268.6" width="0.85" height="0.85" fill="#000" opacity="0.73"/>
<rect x="167.9" y="256.8" width="0.85" height="0.85" fill="#000" opacity="0.44"/>
<rect x="166.0" y="268.1" width="0.85" height="0.85" fill="#000" opacity="0.64"/>
<rect x="165.1" y="269.9" width="0.85" height="0.85" fill="#000" opacity="0.81"/>
<rect x="170.5" y="273.0" width="0.85" height="0.85" fill="#000" opacity="0.73"/>
<rect x="166.2" y="269.5" width="0.85" height="0.85" fill="#000" opacity="0.84"/>
<rect x="172.3" y="266.8" width="0.85" height="0.85" fill="#000" opacity="0.39"/>
<rect x="167.5" y="264.7" width="0.85" height="0.85" fill="#000" opacity="0.62"/>
<rect x="164.3" y="262.6" width="0.85" height="0.85" fill="#000" opacity="0.58"/>
<rect x="165.3" y="256.3" width="0.85" height="0.85" fill="#000" opacity="0.59"/>
<rect x="162.8" y="272.8" width="0.85" height="0.85" fill="#000" opacity="0.42"/>
<rect x="167.6" y="259.5" width="0.85" height="0.85" fill="#000" opacity="0.72"/>
<rect x="168.2" y="266.6" width="0.85" height="0.85" fill="#000" opacity="0.45"/>
<rect x="168.4" y="265.6" width="0.85" height="0.85" fill="#000" opacity="0.53"/>
<rect x="164.9" y="269.4" width="0.85" height="0.85" fill="#000" opacity="0.49"/>
<rect x="168.6" y="269.3" width="0.85" height="0.85" fill="#000" opacity="0.71"/>
<rect x="172.1" y="262.3" width="0.85" height="0.85" fill="#000" opacity="0.42"/>
<rect x="169.7" y="259.3" width="0.85" height="0.85" fill="#000" opacity="0.42"/>
<rect x="172.3" y="272.5" width="0.85" height="0.85" fill="#000" opacity="0.75"/>
<rect x="166.6" y="260.0" width="0.85" height="0.85" fill="#000" opacity="0.61"/>
<rect x="166.3" y="271.8" width="0.85" height="0.85" fill="#000" opacity="0.75"/>
<rect x="170.1" y="258.8" width="0.85" height="0.85" fill="#000" opacity="0.46"/>
<rect x="167.4" y="264.1" width="0.85" height="0.85" fill="#000" opacity="0.76"/>
<rect x="165.3" y="274.3" width="0.85" height="0.85" fill="#000" opacity="0.45"/>
<rect x="167.2" y="268.2" width="0.85" height="0.85" fill="#000" opacity="0.53"/>
<rect x="168.9" y="265.4" width="0.85" height="0.85" fill="#000" opacity="0.70"/>
<rect x="168.4" y="269.4" width="0.85" height="0.85" fill="#000" opacity="0.47"/>
<rect x="165.8" y="265.8" width="0.85" height="0.85" fill="#000" opacity="0.65"/>
<rect x="167.3" y="260.2" width="0.85" height="0.85" fill="#000" opacity="0.81"/>
<rect x="169.4" y="263.4" width="0.85" height="0.85" fill="#000" opacity="0.76"/>
<rect x="173.0" y="259.1" width="0.85" height="0.85" fill="#000" opacity="0.38"/>
<rect x="170.8" y="257.6" width="0.85" height="0.85" fill="#000" opacity="0.31"/>
<rect x="175.9" y="266.1" width="0.85" height="0.85" fill="#000" opacity="0.66"/>
<rect x="168.8" y="267.8" width="0.85" height="0.85" fill="#000" opacity="0.38"/>
<rect x="167.8" y="267.8" width="0.85" height="0.85" fill="#000" opacity="0.80"/>
<rect x="169.3" y="261.5" width="0.85" height="0.85" fill="#000" opacity="0.79"/>
<rect x="164.9" y="258.4" width="0.85" height="0.85" fill="#000" opacity="0.67"/>
<rect x="172.8" y="258.5" width="0.85" height="0.85" fill="#000" opacity="0.76"/>
<rect x="170.2" y="273.7" width="0.85" height="0.85" fill="#000" opacity="0.59"/>
<rect x="168.6" y="258.6" width="0.85" height="0.85" fill="#000" opacity="0.79"/>
<rect x="166.7" y="263.4" width="0.85" height="0.85" fill="#000" opacity="0.43"/>
<rect x="171.0" y="270.4" width="0.85" height="0.85" fill="#000" opacity="0.33"/>
<rect x="167.2" y="265.7" width="0.85" height="0.85" fill="#000" opacity="0.57"/>
<rect x="165.2" y="265.1" width="0.85" height="0.85" fill="#000" opacity="0.77"/>
<rect x="174.4" y="265.5" width="0.85" height="0.85" fill="#000" opacity="0.56"/>
<rect x="164.8" y="261.6" width="0.85" height="0.85" fill="#000" opacity="0.76"/>
<rect x="166.7" y="269.4" width="0.85" height="0.85" fill="#000" opacity="0.83"/>
<rect x="172.5" y="268.9" width="0.85" height="0.85" fill="#000" opacity="0.65"/>
<rect x="172.1" y="240.3" width="0.85" height="0.85" fill="#000" opacity="0.47"/>
<rect x="170.7" y="236.9" width="0.85" height="0.85" fill="#000" opacity="0.59"/>
<rect x="165.6" y="238.6" width="0.85" height="0.85" fill="#000" opacity="0.56"/>
<rect x="172.6" y="240.9" width="0.85" height="0.85" fill="#000" opacity="0.45"/>
<rect x="165.9" y="248.3" width="0.85" height="0.85" fill="#000" opacity="0.35"/>
<rect x="165.5" y="240.1" width="0.85" height="0.85" fill="#000" opacity="0.51"/>
<rect x="169.3" y="244.7" width="0.85" height="0.85" fill="#000" opacity="0.37"/>
<rect x="164.0" y="235.6" width="0.85" height="0.85" fill="#000" opacity="0.32"/>
<rect x="169.8" y="234.1" width="0.85" height="0.85" fill="#000" opacity="0.40"/>
<rect x="168.2" y="245.5" width="0.85" height="0.85" fill="#000" opacity="0.59"/>
<rect x="166.0" y="231.0" width="0.85" height="0.85" fill="#000" opacity="0.33"/>
<rect x="167.7" y="243.2" width="0.85" height="0.85" fill="#000" opacity="0.43"/>
<rect x="165.6" y="231.8" width="0.85" height="0.85" fill="#000" opacity="0.22"/>
<rect x="167.7" y="227.7" width="0.85" height="0.85" fill="#000" opacity="0.42"/>
<rect x="170.7" y="240.4" width="0.85" height="0.85" fill="#000" opacity="0.20"/>
<rect x="170.8" y="250.5" width="0.85" height="0.85" fill="#000" opacity="0.44"/>
<rect x="166.1" y="230.9" width="0.85" height="0.85" fill="#000" opacity="0.56"/>
<rect x="165.9" y="234.1" width="0.85" height="0.85" fill="#000" opacity="0.45"/>
<rect x="167.4" y="232.0" width="0.85" height="0.85" fill="#000" opacity="0.47"/>
<rect x="169.5" y="246.9" width="0.85" height="0.85" fill="#000" opacity="0.38"/>
<rect x="168.7" y="236.5" width="0.85" height="0.85" fill="#000" opacity="0.27"/>
<rect x="173.0" y="241.2" width="0.85" height="0.85" fill="#000" opacity="0.57"/>
<rect x="167.2" y="234.6" width="0.85" height="0.85" fill="#000" opacity="0.53"/>
<rect x="169.4" y="232.1" width="0.85" height="0.85" fill="#000" opacity="0.30"/>
<rect x="167.7" y="244.5" width="0.85" height="0.85" fill="#000" opacity="0.33"/>
<rect x="165.2" y="242.3" width="0.85" height="0.85" fill="#000" opacity="0.57"/>
<rect x="171.8" y="241.4" width="0.85" height="0.85" fill="#000" opacity="0.22"/>
<rect x="172.1" y="245.8" width="0.85" height="0.85" fill="#000" opacity="0.43"/>
<rect x="171.1" y="236.1" width="0.85" height="0.85" fill="#000" opacity="0.21"/>
<rect x="166.0" y="243.8" width="0.85" height="0.85" fill="#000" opacity="0.58"/>
<rect x="171.5" y="238.2" width="0.85" height="0.85" fill="#000" opacity="0.36"/>
<rect x="171.6" y="243.7" width="0.85" height="0.85" fill="#000" opacity="0.28"/>
<rect x="168.9" y="239.8" width="0.85" height="0.85" fill="#000" opacity="0.20"/>
<rect x="168.1" y="236.4" width="0.85" height="0.85" fill="#000" opacity="0.59"/>
<rect x="173.1" y="244.8" width="0.85" height="0.85" fill="#000" opacity="0.25"/>
<rect x="172.7" y="240.0" width="0.85" height="0.85" fill="#000" opacity="0.30"/>
<rect x="168.4" y="235.5" width="0.85" height="0.85" fill="#000" opacity="0.22"/>
<rect x="169.2" y="230.4" width="0.85" height="0.85" fill="#000" opacity="0.54"/>
<rect x="168.5" y="236.7" width="0.85" height="0.85" fill="#000" opacity="0.45"/>
<rect x="167.9" y="233.1" width="0.85" height="0.85" fill="#000" opacity="0.57"/>
<rect x="168.5" y="238.2" width="0.85" height="0.85" fill="#000" opacity="0.21"/>
<rect x="165.8" y="230.8" width="0.85" height="0.85" fill="#000" opacity="0.23"/>
<rect x="167.0" y="247.2" width="0.85" height="0.85" fill="#000" opacity="0.27"/>
<rect x="170.5" y="234.1" width="0.85" height="0.85" fill="#000" opacity="0.22"/>
<rect x="166.3" y="244.3" width="0.85" height="0.85" fill="#000" opacity="0.38"/>
<rect x="168.0" y="236.2" width="0.85" height="0.85" fill="#000" opacity="0.52"/>
<rect x="166.2" y="245.0" width="0.85" height="0.85" fill="#000" opacity="0.45"/>
<rect x="166.4" y="241.7" width="0.85" height="0.85" fill="#000" opacity="0.51"/>
<rect x="172.9" y="235.7" width="0.85" height="0.85" fill="#000" opacity="0.43"/>
<rect x="168.4" y="240.9" width="0.85" height="0.85" fill="#000" opacity="0.59"/>
<rect x="167.2" y="229.1" width="0.85" height="0.85" fill="#000" opacity="0.33"/>
<rect x="163.0" y="229.7" width="0.85" height="0.85" fill="#000" opacity="0.53"/>
<rect x="166.8" y="236.2" width="0.85" height="0.85" fill="#000" opacity="0.37"/>
<rect x="170.5" y="235.5" width="0.85" height="0.85" fill="#000" opacity="0.47"/>
<rect x="164.2" y="232.0" width="0.85" height="0.85" fill="#000" opacity="0.52"/>
<rect x="168.6" y="239.3" width="0.85" height="0.85" fill="#000" opacity="0.31"/>
<rect x="165.5" y="242.4" width="0.85" height="0.85" fill="#000" opacity="0.53"/>
<rect x="169.2" y="237.9" width="0.85" height="0.85" fill="#000" opacity="0.53"/>
<rect x="170.6" y="228.8" width="0.85" height="0.85" fill="#000" opacity="0.43"/>
<rect x="167.8" y="249.6" width="0.85" height="0.85" fill="#000" opacity="0.52"/>
<rect x="166.3" y="227.8" width="0.85" height="0.85" fill="#000" opacity="0.34"/>
<rect x="171.4" y="242.6" width="0.85" height="0.85" fill="#000" opacity="0.52"/>
<rect x="169.9" y="247.7" width="0.85" height="0.85" fill="#000" opacity="0.57"/>
<rect x="169.0" y="246.5" width="0.85" height="0.85" fill="#000" opacity="0.47"/>
<rect x="166.9" y="239.8" width="0.85" height="0.85" fill="#000" opacity="0.30"/>
<rect x="168.6" y="229.3" width="0.85" height="0.85" fill="#000" opacity="0.38"/>
<rect x="172.6" y="244.2" width="0.85" height="0.85" fill="#000" opacity="0.51"/>
<rect x="169.0" y="246.2" width="0.85" height="0.85" fill="#000" opacity="0.56"/>
<rect x="171.0" y="234.6" width="0.85" height="0.85" fill="#000" opacity="0.39"/>
<rect x="167.2" y="237.1" width="0.85" height="0.85" fill="#000" opacity="0.28"/>
<rect x="170.3" y="246.7" width="0.85" height="0.85" fill="#000" opacity="0.35"/>
<rect x="166.2" y="236.8" width="0.85" height="0.85" fill="#000" opacity="0.41"/>
<rect x="169.1" y="240.3" width="0.85" height="0.85" fill="#000" opacity="0.60"/>
<rect x="167.7" y="240.9" width="0.85" height="0.85" fill="#000" opacity="0.45"/>
<rect x="258.6" y="262.0" width="0.85" height="0.85" fill="#000" opacity="0.63"/>
<rect x="256.7" y="273.0" width="0.85" height="0.85" fill="#000" opacity="0.31"/>
<rect x="265.2" y="270.5" width="0.85" height="0.85" fill="#000" opacity="0.78"/>
<rect x="255.3" y="266.8" width="0.85" height="0.85" fill="#000" opacity="0.44"/>
<rect x="258.7" y="258.7" width="0.85" height="0.85" fill="#000" opacity="0.82"/>
<rect x="258.8" y="253.1" width="0.85" height="0.85" fill="#000" opacity="0.83"/>
<rect x="258.3" y="267.9" width="0.85" height="0.85" fill="#000" opacity="0.41"/>
<rect x="258.7" y="268.7" width="0.85" height="0.85" fill="#000" opacity="0.33"/>
<rect x="253.9" y="261.0" width="0.85" height="0.85" fill="#000" opacity="0.55"/>
<rect x="263.1" y="261.0" width="0.85" height="0.85" fill="#000" opacity="0.34"/>
<rect x="256.4" y="261.9" width="0.85" height="0.85" fill="#000" opacity="0.37"/>
<rect x="260.0" y="264.6" width="0.85" height="0.85" fill="#000" opacity="0.61"/>
<rect x="254.6" y="252.5" width="0.85" height="0.85" fill="#000" opacity="0.67"/>
<rect x="256.3" y="270.8" width="0.85" height="0.85" fill="#000" opacity="0.39"/>
<rect x="265.3" y="261.4" width="0.85" height="0.85" fill="#000" opacity="0.42"/>
<rect x="260.0" y="267.3" width="0.85" height="0.85" fill="#000" opacity="0.49"/>
<rect x="262.4" y="257.3" width="0.85" height="0.85" fill="#000" opacity="0.76"/>
<rect x="262.2" y="269.6" width="0.85" height="0.85" fill="#000" opacity="0.69"/>
<rect x="259.5" y="267.3" width="0.85" height="0.85" fill="#000" opacity="0.72"/>
<rect x="261.5" y="262.1" width="0.85" height="0.85" fill="#000" opacity="0.46"/>
<rect x="255.0" y="259.6" width="0.85" height="0.85" fill="#000" opacity="0.36"/>
<rect x="257.5" y="270.8" width="0.85" height="0.85" fill="#000" opacity="0.37"/>
<rect x="256.9" y="266.5" width="0.85" height="0.85" fill="#000" opacity="0.43"/>
<rect x="260.5" y="274.2" width="0.85" height="0.85" fill="#000" opacity="0.31"/>
<rect x="258.0" y="261.5" width="0.85" height="0.85" fill="#000" opacity="0.32"/>
<rect x="259.8" y="263.8" width="0.85" height="0.85" fill="#000" opacity="0.81"/>
<rect x="261.5" y="255.1" width="0.85" height="0.85" fill="#000" opacity="0.38"/>
<rect x="257.3" y="267.0" width="0.85" height="0.85" fill="#000" opacity="0.81"/>
<rect x="260.1" y="257.8" width="0.85" height="0.85" fill="#000" opacity="0.55"/>
<rect x="255.1" y="267.4" width="0.85" height="0.85" fill="#000" opacity="0.38"/>
<rect x="258.4" y="268.4" width="0.85" height="0.85" fill="#000" opacity="0.69"/>
<rect x="257.1" y="264.7" width="0.85" height="0.85" fill="#000" opacity="0.78"/>
<rect x="258.1" y="273.2" width="0.85" height="0.85" fill="#000" opacity="0.39"/>
<rect x="257.6" y="269.7" width="0.85" height="0.85" fill="#000" opacity="0.57"/>
<rect x="262.9" y="271.2" width="0.85" height="0.85" fill="#000" opacity="0.67"/>
<rect x="258.9" y="273.7" width="0.85" height="0.85" fill="#000" opacity="0.46"/>
<rect x="258.2" y="270.7" width="0.85" height="0.85" fill="#000" opacity="0.50"/>
<rect x="266.4" y="264.6" width="0.85" height="0.85" fill="#000" opacity="0.81"/>
<rect x="259.9" y="269.3" width="0.85" height="0.85" fill="#000" opacity="0.79"/>
<rect x="261.8" y="270.0" width="0.85" height="0.85" fill="#000" opacity="0.46"/>
<rect x="258.7" y="265.8" width="0.85" height="0.85" fill="#000" opacity="0.74"/>
<rect x="257.6" y="269.2" width="0.85" height="0.85" fill="#000" opacity="0.30"/>
<rect x="259.7" y="258.6" width="0.85" height="0.85" fill="#000" opacity="0.40"/>
<rect x="253.6" y="272.1" width="0.85" height="0.85" fill="#000" opacity="0.42"/>
<rect x="257.2" y="264.3" width="0.85" height="0.85" fill="#000" opacity="0.40"/>
<rect x="258.8" y="255.1" width="0.85" height="0.85" fill="#000" opacity="0.41"/>
<rect x="259.2" y="267.4" width="0.85" height="0.85" fill="#000" opacity="0.63"/>
<rect x="256.5" y="266.2" width="0.85" height="0.85" fill="#000" opacity="0.41"/>
<rect x="255.6" y="258.9" width="0.85" height="0.85" fill="#000" opacity="0.75"/>
<rect x="257.0" y="263.7" width="0.85" height="0.85" fill="#000" opacity="0.34"/>
<rect x="258.0" y="258.9" width="0.85" height="0.85" fill="#000" opacity="0.70"/>
<rect x="262.2" y="270.4" width="0.85" height="0.85" fill="#000" opacity="0.48"/>
<rect x="260.8" y="254.3" width="0.85" height="0.85" fill="#000" opacity="0.57"/>
<rect x="263.3" y="267.5" width="0.85" height="0.85" fill="#000" opacity="0.56"/>
<rect x="259.6" y="262.0" width="0.85" height="0.85" fill="#000" opacity="0.40"/>
<rect x="259.4" y="260.2" width="0.85" height="0.85" fill="#000" opacity="0.39"/>
<rect x="256.2" y="272.8" width="0.85" height="0.85" fill="#000" opacity="0.30"/>
<rect x="255.8" y="265.1" width="0.85" height="0.85" fill="#000" opacity="0.58"/>
<rect x="260.9" y="273.6" width="0.85" height="0.85" fill="#000" opacity="0.75"/>
<rect x="259.6" y="261.4" width="0.85" height="0.85" fill="#000" opacity="0.69"/>
<rect x="255.5" y="273.9" width="0.85" height="0.85" fill="#000" opacity="0.33"/>
<rect x="262.3" y="253.5" width="0.85" height="0.85" fill="#000" opacity="0.57"/>
<rect x="255.5" y="265.3" width="0.85" height="0.85" fill="#000" opacity="0.60"/>
<rect x="264.3" y="268.4" width="0.85" height="0.85" fill="#000" opacity="0.42"/>
<rect x="258.7" y="269.0" width="0.85" height="0.85" fill="#000" opacity="0.44"/>
<rect x="258.5" y="264.4" width="0.85" height="0.85" fill="#000" opacity="0.35"/>
<rect x="257.8" y="261.6" width="0.85" height="0.85" fill="#000" opacity="0.31"/>
<rect x="255.9" y="260.6" width="0.85" height="0.85" fill="#000" opacity="0.59"/>
<rect x="258.0" y="262.9" width="0.85" height="0.85" fill="#000" opacity="0.78"/>
<rect x="258.2" y="263.9" width="0.85" height="0.85" fill="#000" opacity="0.37"/>
<rect x="255.6" y="266.3" width="0.85" height="0.85" fill="#000" opacity="0.45"/>
<rect x="260.0" y="271.0" width="0.85" height="0.85" fill="#000" opacity="0.38"/>
<rect x="254.5" y="258.4" width="0.85" height="0.85" fill="#000" opacity="0.38"/>
<rect x="254.9" y="260.9" width="0.85" height="0.85" fill="#000" opacity="0.39"/>
<rect x="256.5" y="270.7" width="0.85" height="0.85" fill="#000" opacity="0.76"/>
<rect x="256.0" y="264.9" width="0.85" height="0.85" fill="#000" opacity="0.82"/>
<rect x="258.7" y="259.7" width="0.85" height="0.85" fill="#000" opacity="0.43"/>
<rect x="257.0" y="272.4" width="0.85" height="0.85" fill="#000" opacity="0.84"/>
<rect x="260.1" y="253.5" width="0.85" height="0.85" fill="#000" opacity="0.33"/>
<rect x="252.5" y="264.1" width="0.85" height="0.85" fill="#000" opacity="0.81"/>
<rect x="258.3" y="273.3" width="0.85" height="0.85" fill="#000" opacity="0.65"/>
<rect x="256.4" y="272.5" width="0.85" height="0.85" fill="#000" opacity="0.34"/>
<rect x="255.8" y="269.4" width="0.85" height="0.85" fill="#000" opacity="0.31"/>
<rect x="255.5" y="256.5" width="0.85" height="0.85" fill="#000" opacity="0.79"/>
<rect x="258.8" y="264.8" width="0.85" height="0.85" fill="#000" opacity="0.65"/>
<rect x="261.2" y="261.5" width="0.85" height="0.85" fill="#000" opacity="0.44"/>
<rect x="255.9" y="265.1" width="0.85" height="0.85" fill="#000" opacity="0.82"/>
<rect x="257.8" y="271.8" width="0.85" height="0.85" fill="#000" opacity="0.66"/>
<rect x="260.5" y="272.5" width="0.85" height="0.85" fill="#000" opacity="0.83"/>
<rect x="256.5" y="265.5" width="0.85" height="0.85" fill="#000" opacity="0.56"/>
<rect x="257.0" y="265.2" width="0.85" height="0.85" fill="#000" opacity="0.37"/>
<rect x="259.6" y="270.3" width="0.85" height="0.85" fill="#000" opacity="0.52"/>
<rect x="257.9" y="271.1" width="0.85" height="0.85" fill="#000" opacity="0.35"/>
<rect x="254.1" y="262.2" width="0.85" height="0.85" fill="#000" opacity="0.64"/>
<rect x="255.3" y="261.7" width="0.85" height="0.85" fill="#000" opacity="0.41"/>
<rect x="257.7" y="258.5" width="0.85" height="0.85" fill="#000" opacity="0.60"/>
<rect x="256.3" y="260.9" width="0.85" height="0.85" fill="#000" opacity="0.47"/>
<rect x="258.4" y="270.9" width="0.85" height="0.85" fill="#000" opacity="0.58"/>
<rect x="256.0" y="272.2" width="0.85" height="0.85" fill="#000" opacity="0.31"/>
<rect x="256.4" y="266.3" width="0.85" height="0.85" fill="#000" opacity="0.84"/>
<rect x="258.8" y="268.2" width="0.85" height="0.85" fill="#000" opacity="0.78"/>
<rect x="257.5" y="266.9" width="0.85" height="0.85" fill="#000" opacity="0.51"/>
<rect x="254.8" y="270.2" width="0.85" height="0.85" fill="#000" opacity="0.36"/>
<rect x="258.2" y="262.0" width="0.85" height="0.85" fill="#000" opacity="0.49"/>
<rect x="255.0" y="256.9" width="0.85" height="0.85" fill="#000" opacity="0.75"/>
<rect x="254.6" y="264.7" width="0.85" height="0.85" fill="#000" opacity="0.71"/>
<rect x="258.5" y="258.1" width="0.85" height="0.85" fill="#000" opacity="0.73"/>
<rect x="262.2" y="266.3" width="0.85" height="0.85" fill="#000" opacity="0.62"/>
<rect x="252.4" y="266.2" width="0.85" height="0.85" fill="#000" opacity="0.61"/>
<rect x="254.8" y="272.0" width="0.85" height="0.85" fill="#000" opacity="0.78"/>
<rect x="256.5" y="261.7" width="0.85" height="0.85" fill="#000" opacity="0.55"/>
<rect x="254.7" y="268.9" width="0.85" height="0.85" fill="#000" opacity="0.46"/>
<rect x="256.0" y="271.7" width="0.85" height="0.85" fill="#000" opacity="0.51"/>
<rect x="259.9" y="259.3" width="0.85" height="0.85" fill="#000" opacity="0.54"/>
<rect x="259.1" y="271.5" width="0.85" height="0.85" fill="#000" opacity="0.38"/>
<rect x="255.6" y="261.8" width="0.85" height="0.85" fill="#000" opacity="0.35"/>
<rect x="260.1" y="263.0" width="0.85" height="0.85" fill="#000" opacity="0.76"/>
<rect x="259.0" y="273.1" width="0.85" height="0.85" fill="#000" opacity="0.80"/>
<rect x="259.0" y="266.1" width="0.85" height="0.85" fill="#000" opacity="0.61"/>
<rect x="253.1" y="266.3" width="0.85" height="0.85" fill="#000" opacity="0.73"/>
<rect x="250.3" y="260.0" width="0.85" height="0.85" fill="#000" opacity="0.58"/>
<rect x="254.8" y="264.8" width="0.85" height="0.85" fill="#000" opacity="0.51"/>
<rect x="256.4" y="273.3" width="0.85" height="0.85" fill="#000" opacity="0.49"/>
<rect x="261.6" y="262.6" width="0.85" height="0.85" fill="#000" opacity="0.59"/>
<rect x="260.1" y="269.9" width="0.85" height="0.85" fill="#000" opacity="0.52"/>
<rect x="255.5" y="262.6" width="0.85" height="0.85" fill="#000" opacity="0.78"/>
<rect x="260.9" y="264.2" width="0.85" height="0.85" fill="#000" opacity="0.54"/>
<rect x="256.7" y="273.2" width="0.85" height="0.85" fill="#000" opacity="0.75"/>
<rect x="259.3" y="271.4" width="0.85" height="0.85" fill="#000" opacity="0.84"/>
<rect x="259.6" y="258.5" width="0.85" height="0.85" fill="#000" opacity="0.36"/>
<rect x="261.1" y="259.4" width="0.85" height="0.85" fill="#000" opacity="0.75"/>
<rect x="263.1" y="265.1" width="0.85" height="0.85" fill="#000" opacity="0.53"/>
<rect x="259.4" y="270.8" width="0.85" height="0.85" fill="#000" opacity="0.58"/>
<rect x="256.8" y="265.9" width="0.85" height="0.85" fill="#000" opacity="0.40"/>
<rect x="256.2" y="259.1" width="0.85" height="0.85" fill="#000" opacity="0.49"/>
<rect x="261.6" y="265.6" width="0.85" height="0.85" fill="#000" opacity="0.32"/>
<rect x="254.9" y="272.5" width="0.85" height="0.85" fill="#000" opacity="0.47"/>
<rect x="258.2" y="265.4" width="0.85" height="0.85" fill="#000" opacity="0.47"/>
<rect x="260.0" y="258.2" width="0.85" height="0.85" fill="#000" opacity="0.67"/>
<rect x="259.2" y="273.8" width="0.85" height="0.85" fill="#000" opacity="0.60"/>
<rect x="250.6" y="261.3" width="0.85" height="0.85" fill="#000" opacity="0.62"/>
<rect x="257.3" y="267.9" width="0.85" height="0.85" fill="#000" opacity="0.39"/>
<rect x="258.4" y="262.7" width="0.85" height="0.85" fill="#000" opacity="0.36"/>
<rect x="259.6" y="273.5" width="0.85" height="0.85" fill="#000" opacity="0.75"/>
<rect x="255.1" y="257.7" width="0.85" height="0.85" fill="#000" opacity="0.33"/>
<rect x="262.2" y="266.9" width="0.85" height="0.85" fill="#000" opacity="0.48"/>
<rect x="257.8" y="259.6" width="0.85" height="0.85" fill="#000" opacity="0.39"/>
<rect x="258.2" y="269.2" width="0.85" height="0.85" fill="#000" opacity="0.80"/>
<rect x="256.4" y="262.8" width="0.85" height="0.85" fill="#000" opacity="0.55"/>
<rect x="257.7" y="267.5" width="0.85" height="0.85" fill="#000" opacity="0.79"/>
<rect x="253.2" y="257.2" width="0.85" height="0.85" fill="#000" opacity="0.54"/>
<rect x="257.0" y="262.4" width="0.85" height="0.85" fill="#000" opacity="0.32"/>
<rect x="262.4" y="260.2" width="0.85" height="0.85" fill="#000" opacity="0.47"/>
<rect x="261.7" y="258.4" width="0.85" height="0.85" fill="#000" opacity="0.47"/>
<rect x="253.6" y="255.3" width="0.85" height="0.85" fill="#000" opacity="0.57"/>
<rect x="259.9" y="264.4" width="0.85" height="0.85" fill="#000" opacity="0.51"/>
<rect x="258.0" y="261.1" width="0.85" height="0.85" fill="#000" opacity="0.47"/>
<rect x="260.2" y="260.3" width="0.85" height="0.85" fill="#000" opacity="0.74"/>
<rect x="258.4" y="270.3" width="0.85" height="0.85" fill="#000" opacity="0.50"/>
<rect x="260.4" y="271.7" width="0.85" height="0.85" fill="#000" opacity="0.51"/>
<rect x="257.6" y="267.5" width="0.85" height="0.85" fill="#000" opacity="0.37"/>
<rect x="259.3" y="260.2" width="0.85" height="0.85" fill="#000" opacity="0.43"/>
<rect x="259.0" y="271.3" width="0.85" height="0.85" fill="#000" opacity="0.43"/>
<rect x="261.6" y="268.3" width="0.85" height="0.85" fill="#000" opacity="0.49"/>
<rect x="259.8" y="269.1" width="0.85" height="0.85" fill="#000" opacity="0.76"/>
<rect x="260.0" y="271.5" width="0.85" height="0.85" fill="#000" opacity="0.76"/>
<rect x="258.8" y="262.1" width="0.85" height="0.85" fill="#000" opacity="0.49"/>
<rect x="257.9" y="259.3" width="0.85" height="0.85" fill="#000" opacity="0.83"/>
<rect x="256.6" y="265.8" width="0.85" height="0.85" fill="#000" opacity="0.55"/>
<rect x="260.7" y="274.0" width="0.85" height="0.85" fill="#000" opacity="0.44"/>
<rect x="260.8" y="260.5" width="0.85" height="0.85" fill="#000" opacity="0.50"/>
<rect x="260.3" y="271.9" width="0.85" height="0.85" fill="#000" opacity="0.60"/>
<rect x="257.9" y="246.5" width="0.85" height="0.85" fill="#000" opacity="0.49"/>
<rect x="256.8" y="232.6" width="0.85" height="0.85" fill="#000" opacity="0.46"/>
<rect x="257.6" y="239.4" width="0.85" height="0.85" fill="#000" opacity="0.39"/>
<rect x="259.6" y="234.5" width="0.85" height="0.85" fill="#000" opacity="0.63"/>
<rect x="260.7" y="242.1" width="0.85" height="0.85" fill="#000" opacity="0.48"/>
<rect x="256.5" y="238.0" width="0.85" height="0.85" fill="#000" opacity="0.33"/>
<rect x="257.8" y="241.3" width="0.85" height="0.85" fill="#000" opacity="0.36"/>
<rect x="258.0" y="234.0" width="0.85" height="0.85" fill="#000" opacity="0.50"/>
<rect x="261.7" y="233.3" width="0.85" height="0.85" fill="#000" opacity="0.74"/>
<rect x="259.2" y="236.0" width="0.85" height="0.85" fill="#000" opacity="0.44"/>
<rect x="261.8" y="239.4" width="0.85" height="0.85" fill="#000" opacity="0.63"/>
<rect x="257.0" y="242.1" width="0.85" height="0.85" fill="#000" opacity="0.63"/>
<rect x="257.9" y="234.4" width="0.85" height="0.85" fill="#000" opacity="0.72"/>
<rect x="256.5" y="243.6" width="0.85" height="0.85" fill="#000" opacity="0.39"/>
<rect x="262.2" y="245.3" width="0.85" height="0.85" fill="#000" opacity="0.67"/>
<rect x="258.2" y="236.6" width="0.85" height="0.85" fill="#000" opacity="0.32"/>
<rect x="259.2" y="240.8" width="0.85" height="0.85" fill="#000" opacity="0.45"/>
<rect x="257.9" y="239.0" width="0.85" height="0.85" fill="#000" opacity="0.46"/>
<rect x="257.5" y="235.6" width="0.85" height="0.85" fill="#000" opacity="0.72"/>
<rect x="255.1" y="234.6" width="0.85" height="0.85" fill="#000" opacity="0.43"/>
<rect x="255.2" y="241.0" width="0.85" height="0.85" fill="#000" opacity="0.47"/>
<rect x="262.8" y="238.1" width="0.85" height="0.85" fill="#000" opacity="0.69"/>
<rect x="258.2" y="239.4" width="0.85" height="0.85" fill="#000" opacity="0.73"/>
<rect x="257.8" y="237.0" width="0.85" height="0.85" fill="#000" opacity="0.42"/>
<rect x="261.5" y="243.7" width="0.85" height="0.85" fill="#000" opacity="0.41"/>
<rect x="261.7" y="233.7" width="0.85" height="0.85" fill="#000" opacity="0.34"/>
<rect x="257.6" y="233.3" width="0.85" height="0.85" fill="#000" opacity="0.67"/>
<rect x="259.3" y="234.4" width="0.85" height="0.85" fill="#000" opacity="0.34"/>
<rect x="260.7" y="236.3" width="0.85" height="0.85" fill="#000" opacity="0.77"/>
<rect x="257.0" y="230.4" width="0.85" height="0.85" fill="#000" opacity="0.71"/>
<rect x="256.6" y="234.0" width="0.85" height="0.85" fill="#000" opacity="0.33"/>
<rect x="257.6" y="233.0" width="0.85" height="0.85" fill="#000" opacity="0.56"/>
<rect x="259.5" y="236.9" width="0.85" height="0.85" fill="#000" opacity="0.68"/>
<rect x="261.8" y="240.1" width="0.85" height="0.85" fill="#000" opacity="0.70"/>
<rect x="258.2" y="244.3" width="0.85" height="0.85" fill="#000" opacity="0.78"/>
<rect x="256.5" y="233.2" width="0.85" height="0.85" fill="#000" opacity="0.42"/>
<rect x="260.4" y="239.7" width="0.85" height="0.85" fill="#000" opacity="0.51"/>
<rect x="259.0" y="242.1" width="0.85" height="0.85" fill="#000" opacity="0.37"/>
<rect x="257.5" y="230.8" width="0.85" height="0.85" fill="#000" opacity="0.42"/>
<rect x="258.5" y="244.0" width="0.85" height="0.85" fill="#000" opacity="0.52"/>
<rect x="260.4" y="236.2" width="0.85" height="0.85" fill="#000" opacity="0.45"/>
<rect x="259.4" y="236.2" width="0.85" height="0.85" fill="#000" opacity="0.58"/>
<rect x="256.3" y="246.0" width="0.85" height="0.85" fill="#000" opacity="0.57"/>
<rect x="258.5" y="235.0" width="0.85" height="0.85" fill="#000" opacity="0.63"/>
<rect x="256.3" y="234.8" width="0.85" height="0.85" fill="#000" opacity="0.68"/>
<rect x="259.0" y="235.8" width="0.85" height="0.85" fill="#000" opacity="0.44"/>
<rect x="257.4" y="240.6" width="0.85" height="0.85" fill="#000" opacity="0.33"/>
<rect x="258.1" y="241.3" width="0.85" height="0.85" fill="#000" opacity="0.65"/>
<rect x="257.3" y="238.8" width="0.85" height="0.85" fill="#000" opacity="0.46"/>
<rect x="256.3" y="238.9" width="0.85" height="0.85" fill="#000" opacity="0.38"/>
<rect x="258.7" y="238.3" width="0.85" height="0.85" fill="#000" opacity="0.80"/>
<rect x="258.4" y="235.9" width="0.85" height="0.85" fill="#000" opacity="0.66"/>
<rect x="261.3" y="237.2" width="0.85" height="0.85" fill="#000" opacity="0.35"/>
<rect x="256.0" y="238.4" width="0.85" height="0.85" fill="#000" opacity="0.39"/>
<rect x="258.1" y="237.8" width="0.85" height="0.85" fill="#000" opacity="0.76"/>
<rect x="256.4" y="232.5" width="0.85" height="0.85" fill="#000" opacity="0.77"/>
<rect x="257.4" y="234.9" width="0.85" height="0.85" fill="#000" opacity="0.42"/>
<rect x="258.8" y="238.9" width="0.85" height="0.85" fill="#000" opacity="0.69"/>
<rect x="259.4" y="234.5" width="0.85" height="0.85" fill="#000" opacity="0.39"/>
<rect x="255.5" y="230.6" width="0.85" height="0.85" fill="#000" opacity="0.76"/>
<rect x="260.4" y="245.6" width="0.85" height="0.85" fill="#000" opacity="0.72"/>
<rect x="258.3" y="233.6" width="0.85" height="0.85" fill="#000" opacity="0.39"/>
<rect x="259.3" y="234.1" width="0.85" height="0.85" fill="#000" opacity="0.48"/>
<rect x="256.3" y="236.5" width="0.85" height="0.85" fill="#000" opacity="0.72"/>
<rect x="258.4" y="239.4" width="0.85" height="0.85" fill="#000" opacity="0.58"/>
<rect x="255.5" y="231.3" width="0.85" height="0.85" fill="#000" opacity="0.65"/>
<rect x="263.0" y="231.2" width="0.85" height="0.85" fill="#000" opacity="0.55"/>
<rect x="257.1" y="238.0" width="0.85" height="0.85" fill="#000" opacity="0.45"/>
<rect x="257.6" y="237.0" width="0.85" height="0.85" fill="#000" opacity="0.64"/>
<rect x="259.7" y="242.6" width="0.85" height="0.85" fill="#000" opacity="0.78"/>
<rect x="259.0" y="238.8" width="0.85" height="0.85" fill="#000" opacity="0.52"/>
<rect x="259.7" y="245.5" width="0.85" height="0.85" fill="#000" opacity="0.30"/>
<rect x="260.8" y="229.7" width="0.85" height="0.85" fill="#000" opacity="0.69"/>
<rect x="256.7" y="239.8" width="0.85" height="0.85" fill="#000" opacity="0.63"/>
<rect x="256.0" y="237.5" width="0.85" height="0.85" fill="#000" opacity="0.47"/>
<rect x="255.2" y="240.8" width="0.85" height="0.85" fill="#000" opacity="0.71"/>
<rect x="259.5" y="236.3" width="0.85" height="0.85" fill="#000" opacity="0.45"/>
<rect x="255.6" y="240.3" width="0.85" height="0.85" fill="#000" opacity="0.47"/>
<rect x="258.7" y="240.0" width="0.85" height="0.85" fill="#000" opacity="0.46"/>
<rect x="252.5" y="241.3" width="0.85" height="0.85" fill="#000" opacity="0.75"/>
<rect x="261.5" y="236.3" width="0.85" height="0.85" fill="#000" opacity="0.71"/>
<rect x="261.6" y="240.8" width="0.85" height="0.85" fill="#000" opacity="0.60"/>
<rect x="257.5" y="244.2" width="0.85" height="0.85" fill="#000" opacity="0.78"/>
<rect x="255.1" y="238.9" width="0.85" height="0.85" fill="#000" opacity="0.45"/>
<rect x="255.8" y="246.7" width="0.85" height="0.85" fill="#000" opacity="0.31"/>
<rect x="259.7" y="245.0" width="0.85" height="0.85" fill="#000" opacity="0.52"/>
<rect x="261.3" y="241.7" width="0.85" height="0.85" fill="#000" opacity="0.49"/>
<rect x="256.3" y="235.5" width="0.85" height="0.85" fill="#000" opacity="0.56"/>
<rect x="256.3" y="236.0" width="0.85" height="0.85" fill="#000" opacity="0.36"/>
<rect x="260.4" y="247.5" width="0.85" height="0.85" fill="#000" opacity="0.57"/>
<rect x="261.9" y="244.5" width="0.85" height="0.85" fill="#000" opacity="0.43"/>
<rect x="260.7" y="241.5" width="0.85" height="0.85" fill="#000" opacity="0.43"/>
<rect x="255.5" y="238.4" width="0.85" height="0.85" fill="#000" opacity="0.41"/>
<rect x="257.4" y="236.9" width="0.85" height="0.85" fill="#000" opacity="0.56"/>
<rect x="257.6" y="236.9" width="0.85" height="0.85" fill="#000" opacity="0.50"/>
<rect x="260.6" y="240.4" width="0.85" height="0.85" fill="#000" opacity="0.73"/>
<rect x="254.9" y="235.5" width="0.85" height="0.85" fill="#000" opacity="0.68"/>
<rect x="263.7" y="248.1" width="0.85" height="0.85" fill="#000" opacity="0.66"/>
<rect x="261.9" y="243.6" width="0.85" height="0.85" fill="#000" opacity="0.50"/>
<rect x="261.2" y="249.2" width="0.85" height="0.85" fill="#000" opacity="0.58"/>
<rect x="258.6" y="235.3" width="0.85" height="0.85" fill="#000" opacity="0.69"/>
<rect x="260.0" y="239.3" width="0.85" height="0.85" fill="#000" opacity="0.49"/>
<rect x="261.5" y="238.6" width="0.85" height="0.85" fill="#000" opacity="0.41"/>
<rect x="257.3" y="245.5" width="0.85" height="0.85" fill="#000" opacity="0.51"/>
<rect x="85.4" y="340.6" width="0.85" height="0.85" fill="#000" opacity="0.78"/>
<rect x="78.2" y="340.8" width="0.85" height="0.85" fill="#000" opacity="0.78"/>
<rect x="84.8" y="354.6" width="0.85" height="0.85" fill="#000" opacity="0.49"/>
<rect x="83.2" y="337.0" width="0.85" height="0.85" fill="#000" opacity="0.75"/>
<rect x="84.5" y="350.0" width="0.85" height="0.85" fill="#000" opacity="0.71"/>
<rect x="86.4" y="342.9" width="0.85" height="0.85" fill="#000" opacity="0.32"/>
<rect x="82.1" y="344.3" width="0.85" height="0.85" fill="#000" opacity="0.60"/>
<rect x="83.3" y="343.2" width="0.85" height="0.85" fill="#000" opacity="0.81"/>
<rect x="82.1" y="341.9" width="0.85" height="0.85" fill="#000" opacity="0.41"/>
<rect x="78.8" y="349.8" width="0.85" height="0.85" fill="#000" opacity="0.62"/>
<rect x="83.3" y="346.8" width="0.85" height="0.85" fill="#000" opacity="0.36"/>
<rect x="83.4" y="342.4" width="0.85" height="0.85" fill="#000" opacity="0.60"/>
<rect x="82.0" y="348.3" width="0.85" height="0.85" fill="#000" opacity="0.78"/>
<rect x="79.5" y="343.8" width="0.85" height="0.85" fill="#000" opacity="0.74"/>
<rect x="83.3" y="345.7" width="0.85" height="0.85" fill="#000" opacity="0.49"/>
<rect x="84.5" y="351.8" width="0.85" height="0.85" fill="#000" opacity="0.78"/>
<rect x="83.1" y="344.5" width="0.85" height="0.85" fill="#000" opacity="0.40"/>
<rect x="84.3" y="337.8" width="0.85" height="0.85" fill="#000" opacity="0.52"/>
<rect x="81.6" y="346.5" width="0.85" height="0.85" fill="#000" opacity="0.76"/>
<rect x="79.2" y="353.6" width="0.85" height="0.85" fill="#000" opacity="0.64"/>
<rect x="84.7" y="348.5" width="0.85" height="0.85" fill="#000" opacity="0.42"/>
<rect x="85.3" y="341.1" width="0.85" height="0.85" fill="#000" opacity="0.32"/>
<rect x="84.0" y="351.0" width="0.85" height="0.85" fill="#000" opacity="0.56"/>
<rect x="80.9" y="343.2" width="0.85" height="0.85" fill="#000" opacity="0.49"/>
<rect x="85.9" y="346.3" width="0.85" height="0.85" fill="#000" opacity="0.48"/>
<rect x="85.4" y="346.9" width="0.85" height="0.85" fill="#000" opacity="0.84"/>
<rect x="84.1" y="346.9" width="0.85" height="0.85" fill="#000" opacity="0.67"/>
<rect x="82.6" y="350.7" width="0.85" height="0.85" fill="#000" opacity="0.58"/>
<rect x="82.7" y="353.8" width="0.85" height="0.85" fill="#000" opacity="0.59"/>
<rect x="89.8" y="341.0" width="0.85" height="0.85" fill="#000" opacity="0.32"/>
<rect x="79.2" y="342.2" width="0.85" height="0.85" fill="#000" opacity="0.78"/>
<rect x="83.4" y="337.6" width="0.85" height="0.85" fill="#000" opacity="0.65"/>
<rect x="81.7" y="349.7" width="0.85" height="0.85" fill="#000" opacity="0.74"/>
<rect x="86.7" y="335.8" width="0.85" height="0.85" fill="#000" opacity="0.67"/>
<rect x="82.7" y="338.9" width="0.85" height="0.85" fill="#000" opacity="0.65"/>
<rect x="81.2" y="352.1" width="0.85" height="0.85" fill="#000" opacity="0.52"/>
<rect x="84.8" y="348.0" width="0.85" height="0.85" fill="#000" opacity="0.48"/>
<rect x="85.5" y="345.5" width="0.85" height="0.85" fill="#000" opacity="0.50"/>
<rect x="83.0" y="350.4" width="0.85" height="0.85" fill="#000" opacity="0.49"/>
<rect x="83.1" y="346.5" width="0.85" height="0.85" fill="#000" opacity="0.78"/>
<rect x="80.5" y="347.9" width="0.85" height="0.85" fill="#000" opacity="0.61"/>
<rect x="82.4" y="349.5" width="0.85" height="0.85" fill="#000" opacity="0.34"/>
<rect x="82.3" y="350.9" width="0.85" height="0.85" fill="#000" opacity="0.70"/>
<rect x="77.8" y="341.5" width="0.85" height="0.85" fill="#000" opacity="0.49"/>
<rect x="85.6" y="342.2" width="0.85" height="0.85" fill="#000" opacity="0.34"/>
<rect x="84.2" y="353.1" width="0.85" height="0.85" fill="#000" opacity="0.84"/>
<rect x="80.4" y="354.1" width="0.85" height="0.85" fill="#000" opacity="0.54"/>
<rect x="83.5" y="344.3" width="0.85" height="0.85" fill="#000" opacity="0.57"/>
<rect x="84.4" y="343.1" width="0.85" height="0.85" fill="#000" opacity="0.44"/>
<rect x="84.3" y="346.5" width="0.85" height="0.85" fill="#000" opacity="0.45"/>
<rect x="82.4" y="342.0" width="0.85" height="0.85" fill="#000" opacity="0.52"/>
<rect x="83.9" y="353.8" width="0.85" height="0.85" fill="#000" opacity="0.78"/>
<rect x="82.0" y="342.8" width="0.85" height="0.85" fill="#000" opacity="0.70"/>
<rect x="85.9" y="344.1" width="0.85" height="0.85" fill="#000" opacity="0.34"/>
<rect x="84.6" y="334.6" width="0.85" height="0.85" fill="#000" opacity="0.49"/>
<rect x="83.9" y="348.9" width="0.85" height="0.85" fill="#000" opacity="0.60"/>
<rect x="85.2" y="340.0" width="0.85" height="0.85" fill="#000" opacity="0.81"/>
<rect x="83.4" y="351.2" width="0.85" height="0.85" fill="#000" opacity="0.71"/>
<rect x="81.5" y="341.1" width="0.85" height="0.85" fill="#000" opacity="0.67"/>
<rect x="82.5" y="347.8" width="0.85" height="0.85" fill="#000" opacity="0.53"/>
<rect x="86.0" y="348.4" width="0.85" height="0.85" fill="#000" opacity="0.48"/>
<rect x="79.8" y="346.3" width="0.85" height="0.85" fill="#000" opacity="0.44"/>
<rect x="82.5" y="346.2" width="0.85" height="0.85" fill="#000" opacity="0.81"/>
<rect x="76.6" y="339.0" width="0.85" height="0.85" fill="#000" opacity="0.33"/>
<rect x="80.1" y="339.7" width="0.85" height="0.85" fill="#000" opacity="0.48"/>
<rect x="84.0" y="347.9" width="0.85" height="0.85" fill="#000" opacity="0.38"/>
<rect x="83.0" y="343.4" width="0.85" height="0.85" fill="#000" opacity="0.75"/>
<rect x="80.4" y="349.5" width="0.85" height="0.85" fill="#000" opacity="0.62"/>
<rect x="79.7" y="343.0" width="0.85" height="0.85" fill="#000" opacity="0.63"/>
<rect x="81.1" y="354.6" width="0.85" height="0.85" fill="#000" opacity="0.44"/>
<rect x="82.0" y="336.1" width="0.85" height="0.85" fill="#000" opacity="0.73"/>
<rect x="85.4" y="345.1" width="0.85" height="0.85" fill="#000" opacity="0.45"/>
<rect x="77.5" y="343.9" width="0.85" height="0.85" fill="#000" opacity="0.37"/>
<rect x="85.5" y="346.4" width="0.85" height="0.85" fill="#000" opacity="0.66"/>
<rect x="83.2" y="340.4" width="0.85" height="0.85" fill="#000" opacity="0.84"/>
<rect x="83.4" y="346.8" width="0.85" height="0.85" fill="#000" opacity="0.37"/>
<rect x="85.4" y="348.6" width="0.85" height="0.85" fill="#000" opacity="0.61"/>
<rect x="82.0" y="348.6" width="0.85" height="0.85" fill="#000" opacity="0.40"/>
<rect x="82.5" y="332.5" width="0.85" height="0.85" fill="#000" opacity="0.39"/>
<rect x="86.8" y="347.9" width="0.85" height="0.85" fill="#000" opacity="0.43"/>
<rect x="85.6" y="345.2" width="0.85" height="0.85" fill="#000" opacity="0.65"/>
<rect x="80.9" y="347.3" width="0.85" height="0.85" fill="#000" opacity="0.80"/>
<rect x="85.8" y="352.1" width="0.85" height="0.85" fill="#000" opacity="0.34"/>
<rect x="81.5" y="341.2" width="0.85" height="0.85" fill="#000" opacity="0.78"/>
<rect x="85.7" y="348.8" width="0.85" height="0.85" fill="#000" opacity="0.53"/>
<rect x="87.7" y="339.0" width="0.85" height="0.85" fill="#000" opacity="0.64"/>
<rect x="83.2" y="350.5" width="0.85" height="0.85" fill="#000" opacity="0.44"/>
<rect x="81.4" y="347.8" width="0.85" height="0.85" fill="#000" opacity="0.41"/>
<rect x="83.1" y="337.4" width="0.85" height="0.85" fill="#000" opacity="0.46"/>
<rect x="84.5" y="345.9" width="0.85" height="0.85" fill="#000" opacity="0.61"/>
<rect x="84.1" y="342.5" width="0.85" height="0.85" fill="#000" opacity="0.71"/>
<rect x="83.7" y="341.6" width="0.85" height="0.85" fill="#000" opacity="0.48"/>
<rect x="78.1" y="347.1" width="0.85" height="0.85" fill="#000" opacity="0.39"/>
<rect x="81.6" y="338.6" width="0.85" height="0.85" fill="#000" opacity="0.55"/>
<rect x="78.7" y="340.1" width="0.85" height="0.85" fill="#000" opacity="0.42"/>
<rect x="84.5" y="342.2" width="0.85" height="0.85" fill="#000" opacity="0.73"/>
<rect x="83.9" y="343.1" width="0.85" height="0.85" fill="#000" opacity="0.78"/>
<rect x="84.8" y="345.8" width="0.85" height="0.85" fill="#000" opacity="0.31"/>
<rect x="88.0" y="346.8" width="0.85" height="0.85" fill="#000" opacity="0.38"/>
<rect x="82.8" y="343.3" width="0.85" height="0.85" fill="#000" opacity="0.39"/>
<rect x="82.5" y="343.6" width="0.85" height="0.85" fill="#000" opacity="0.49"/>
<rect x="86.1" y="341.3" width="0.85" height="0.85" fill="#000" opacity="0.79"/>
<rect x="83.5" y="345.8" width="0.85" height="0.85" fill="#000" opacity="0.43"/>
<rect x="83.8" y="337.1" width="0.85" height="0.85" fill="#000" opacity="0.32"/>
<rect x="81.2" y="345.9" width="0.85" height="0.85" fill="#000" opacity="0.54"/>
<rect x="83.3" y="346.7" width="0.85" height="0.85" fill="#000" opacity="0.84"/>
<rect x="84.8" y="350.8" width="0.85" height="0.85" fill="#000" opacity="0.37"/>
<rect x="81.6" y="347.6" width="0.85" height="0.85" fill="#000" opacity="0.68"/>
<rect x="85.2" y="353.9" width="0.85" height="0.85" fill="#000" opacity="0.58"/>
<rect x="84.5" y="349.6" width="0.85" height="0.85" fill="#000" opacity="0.57"/>
<rect x="84.8" y="343.3" width="0.85" height="0.85" fill="#000" opacity="0.42"/>
<rect x="87.6" y="343.5" width="0.85" height="0.85" fill="#000" opacity="0.70"/>
<rect x="82.7" y="349.7" width="0.85" height="0.85" fill="#000" opacity="0.45"/>
<rect x="83.5" y="346.7" width="0.85" height="0.85" fill="#000" opacity="0.58"/>
<rect x="80.4" y="350.2" width="0.85" height="0.85" fill="#000" opacity="0.50"/>
<rect x="86.4" y="346.6" width="0.85" height="0.85" fill="#000" opacity="0.66"/>
<rect x="80.1" y="343.9" width="0.85" height="0.85" fill="#000" opacity="0.68"/>
<rect x="87.6" y="344.6" width="0.85" height="0.85" fill="#000" opacity="0.69"/>
<rect x="81.3" y="349.1" width="0.85" height="0.85" fill="#000" opacity="0.53"/>
<rect x="85.1" y="345.0" width="0.85" height="0.85" fill="#000" opacity="0.51"/>
<rect x="81.8" y="347.8" width="0.85" height="0.85" fill="#000" opacity="0.85"/>
<rect x="86.0" y="346.3" width="0.85" height="0.85" fill="#000" opacity="0.81"/>
<rect x="82.8" y="354.2" width="0.85" height="0.85" fill="#000" opacity="0.51"/>
<rect x="83.0" y="350.0" width="0.85" height="0.85" fill="#000" opacity="0.36"/>
<rect x="85.1" y="337.2" width="0.85" height="0.85" fill="#000" opacity="0.80"/>
<rect x="86.3" y="348.8" width="0.85" height="0.85" fill="#000" opacity="0.48"/>
<rect x="81.1" y="340.0" width="0.85" height="0.85" fill="#000" opacity="0.47"/>
<rect x="83.0" y="346.0" width="0.85" height="0.85" fill="#000" opacity="0.71"/>
<rect x="84.6" y="340.3" width="0.85" height="0.85" fill="#000" opacity="0.63"/>
<rect x="84.6" y="345.9" width="0.85" height="0.85" fill="#000" opacity="0.65"/>
<rect x="82.8" y="340.1" width="0.85" height="0.85" fill="#000" opacity="0.69"/>
<rect x="80.7" y="350.5" width="0.85" height="0.85" fill="#000" opacity="0.64"/>
<rect x="82.0" y="341.3" width="0.85" height="0.85" fill="#000" opacity="0.65"/>
<rect x="81.3" y="344.9" width="0.85" height="0.85" fill="#000" opacity="0.64"/>
<rect x="79.3" y="347.6" width="0.85" height="0.85" fill="#000" opacity="0.59"/>
<rect x="81.3" y="346.6" width="0.85" height="0.85" fill="#000" opacity="0.38"/>
<rect x="85.4" y="342.8" width="0.85" height="0.85" fill="#000" opacity="0.59"/>
<rect x="78.7" y="344.1" width="0.85" height="0.85" fill="#000" opacity="0.43"/>
<rect x="79.7" y="348.1" width="0.85" height="0.85" fill="#000" opacity="0.76"/>
<rect x="86.5" y="338.5" width="0.85" height="0.85" fill="#000" opacity="0.32"/>
<rect x="79.7" y="353.7" width="0.85" height="0.85" fill="#000" opacity="0.75"/>
<rect x="83.9" y="348.4" width="0.85" height="0.85" fill="#000" opacity="0.44"/>
<rect x="84.6" y="349.4" width="0.85" height="0.85" fill="#000" opacity="0.74"/>
<rect x="80.4" y="345.1" width="0.85" height="0.85" fill="#000" opacity="0.35"/>
<rect x="82.0" y="339.8" width="0.85" height="0.85" fill="#000" opacity="0.56"/>
<rect x="84.1" y="336.3" width="0.85" height="0.85" fill="#000" opacity="0.38"/>
<rect x="82.0" y="340.8" width="0.85" height="0.85" fill="#000" opacity="0.59"/>
<rect x="83.1" y="351.8" width="0.85" height="0.85" fill="#000" opacity="0.49"/>
<rect x="82.6" y="346.8" width="0.85" height="0.85" fill="#000" opacity="0.41"/>
<rect x="82.2" y="345.1" width="0.85" height="0.85" fill="#000" opacity="0.40"/>
<rect x="82.5" y="341.3" width="0.85" height="0.85" fill="#000" opacity="0.48"/>
<rect x="85.6" y="350.6" width="0.85" height="0.85" fill="#000" opacity="0.77"/>
<rect x="83.6" y="352.0" width="0.85" height="0.85" fill="#000" opacity="0.74"/>
<rect x="81.3" y="342.1" width="0.85" height="0.85" fill="#000" opacity="0.32"/>
<rect x="80.8" y="348.0" width="0.85" height="0.85" fill="#000" opacity="0.69"/>
<rect x="82.2" y="351.9" width="0.85" height="0.85" fill="#000" opacity="0.66"/>
<rect x="83.7" y="340.8" width="0.85" height="0.85" fill="#000" opacity="0.51"/>
<rect x="78.3" y="339.5" width="0.85" height="0.85" fill="#000" opacity="0.41"/>
<rect x="86.5" y="344.3" width="0.85" height="0.85" fill="#000" opacity="0.50"/>
<rect x="81.9" y="341.4" width="0.85" height="0.85" fill="#000" opacity="0.34"/>
<rect x="83.0" y="340.1" width="0.85" height="0.85" fill="#000" opacity="0.59"/>
<rect x="78.0" y="346.3" width="0.85" height="0.85" fill="#000" opacity="0.72"/>
<rect x="85.9" y="347.3" width="0.85" height="0.85" fill="#000" opacity="0.55"/>
<rect x="78.6" y="348.7" width="0.85" height="0.85" fill="#000" opacity="0.53"/>
<rect x="78.1" y="348.1" width="0.85" height="0.85" fill="#000" opacity="0.54"/>
<rect x="80.1" y="346.4" width="0.85" height="0.85" fill="#000" opacity="0.75"/>
<rect x="81.1" y="337.4" width="0.85" height="0.85" fill="#000" opacity="0.52"/>
<rect x="86.3" y="348.3" width="0.85" height="0.85" fill="#000" opacity="0.60"/>
<rect x="83.4" y="335.8" width="0.85" height="0.85" fill="#000" opacity="0.36"/>
<rect x="83.1" y="348.4" width="0.85" height="0.85" fill="#000" opacity="0.75"/>
<rect x="83.7" y="347.5" width="0.85" height="0.85" fill="#000" opacity="0.71"/>
<rect x="82.2" y="345.2" width="0.85" height="0.85" fill="#000" opacity="0.67"/>
<rect x="82.3" y="339.3" width="0.85" height="0.85" fill="#000" opacity="0.33"/>
<rect x="82.0" y="340.2" width="0.85" height="0.85" fill="#000" opacity="0.62"/>
<rect x="87.1" y="345.9" width="0.85" height="0.85" fill="#000" opacity="0.78"/>
<rect x="84.2" y="350.3" width="0.85" height="0.85" fill="#000" opacity="0.59"/>
<rect x="89.8" y="346.7" width="0.85" height="0.85" fill="#000" opacity="0.45"/>
<rect x="82.7" y="351.2" width="0.85" height="0.85" fill="#000" opacity="0.44"/>
<rect x="84.8" y="340.1" width="0.85" height="0.85" fill="#000" opacity="0.58"/>
<rect x="82.2" y="346.9" width="0.85" height="0.85" fill="#000" opacity="0.47"/>
<rect x="85.7" y="338.0" width="0.85" height="0.85" fill="#000" opacity="0.77"/>
<rect x="82.8" y="350.0" width="0.85" height="0.85" fill="#000" opacity="0.33"/>
<rect x="80.7" y="344.7" width="0.85" height="0.85" fill="#000" opacity="0.56"/>
<rect x="79.9" y="346.5" width="0.85" height="0.85" fill="#000" opacity="0.50"/>
<rect x="83.4" y="342.2" width="0.85" height="0.85" fill="#000" opacity="0.81"/>
<rect x="82.2" y="345.3" width="0.85" height="0.85" fill="#000" opacity="0.47"/>
<rect x="80.6" y="344.7" width="0.85" height="0.85" fill="#000" opacity="0.61"/>
<rect x="82.1" y="350.3" width="0.85" height="0.85" fill="#000" opacity="0.74"/>
<rect x="83.9" y="338.4" width="0.85" height="0.85" fill="#000" opacity="0.55"/>
<rect x="85.2" y="343.4" width="0.85" height="0.85" fill="#000" opacity="0.78"/>
<rect x="85.2" y="348.3" width="0.85" height="0.85" fill="#000" opacity="0.65"/>
<rect x="87.3" y="349.6" width="0.85" height="0.85" fill="#000" opacity="0.34"/>
<rect x="81.7" y="343.8" width="0.85" height="0.85" fill="#000" opacity="0.81"/>
<rect x="79.1" y="342.0" width="0.85" height="0.85" fill="#000" opacity="0.57"/>
<rect x="81.3" y="338.0" width="0.85" height="0.85" fill="#000" opacity="0.46"/>
<rect x="83.2" y="348.7" width="0.85" height="0.85" fill="#000" opacity="0.35"/>
<rect x="84.1" y="331.6" width="0.85" height="0.85" fill="#000" opacity="0.53"/>
<rect x="81.9" y="342.1" width="0.85" height="0.85" fill="#000" opacity="0.80"/>
<rect x="82.4" y="342.8" width="0.85" height="0.85" fill="#000" opacity="0.33"/>
<rect x="82.7" y="344.3" width="0.85" height="0.85" fill="#000" opacity="0.76"/>
<rect x="82.4" y="350.2" width="0.85" height="0.85" fill="#000" opacity="0.62"/>
<rect x="81.7" y="353.0" width="0.85" height="0.85" fill="#000" opacity="0.38"/>
<rect x="84.6" y="343.2" width="0.85" height="0.85" fill="#000" opacity="0.76"/>
<rect x="85.2" y="345.3" width="0.85" height="0.85" fill="#000" opacity="0.32"/>
<rect x="80.5" y="351.9" width="0.85" height="0.85" fill="#000" opacity="0.42"/>
<rect x="81.9" y="345.2" width="0.85" height="0.85" fill="#000" opacity="0.56"/>
<rect x="82.6" y="339.7" width="0.85" height="0.85" fill="#000" opacity="0.67"/>
<rect x="86.2" y="353.4" width="0.85" height="0.85" fill="#000" opacity="0.37"/>
<rect x="89.7" y="336.7" width="0.85" height="0.85" fill="#000" opacity="0.82"/>
<rect x="81.0" y="345.2" width="0.85" height="0.85" fill="#000" opacity="0.49"/>
<rect x="82.9" y="339.0" width="0.85" height="0.85" fill="#000" opacity="0.81"/>
<rect x="85.1" y="349.8" width="0.85" height="0.85" fill="#000" opacity="0.78"/>
<rect x="80.6" y="341.7" width="0.85" height="0.85" fill="#000" opacity="0.35"/>
<rect x="84.1" y="349.7" width="0.85" height="0.85" fill="#000" opacity="0.79"/>
<rect x="83.8" y="342.4" width="0.85" height="0.85" fill="#000" opacity="0.81"/>
<rect x="85.9" y="347.6" width="0.85" height="0.85" fill="#000" opacity="0.83"/>
<rect x="82.5" y="344.4" width="0.85" height="0.85" fill="#000" opacity="0.48"/>
<rect x="81.3" y="347.4" width="0.85" height="0.85" fill="#000" opacity="0.71"/>
<rect x="82.6" y="348.2" width="0.85" height="0.85" fill="#000" opacity="0.61"/>
<rect x="85.3" y="350.3" width="0.85" height="0.85" fill="#000" opacity="0.73"/>
<rect x="80.8" y="342.2" width="0.85" height="0.85" fill="#000" opacity="0.32"/>
<rect x="81.9" y="345.8" width="0.85" height="0.85" fill="#000" opacity="0.66"/>
<rect x="84.9" y="351.8" width="0.85" height="0.85" fill="#000" opacity="0.49"/>
<rect x="80.5" y="352.3" width="0.85" height="0.85" fill="#000" opacity="0.39"/>
<rect x="84.7" y="341.1" width="0.85" height="0.85" fill="#000" opacity="0.38"/>
<rect x="86.8" y="352.9" width="0.85" height="0.85" fill="#000" opacity="0.36"/>
<rect x="80.1" y="346.2" width="0.85" height="0.85" fill="#000" opacity="0.36"/>
<rect x="81.6" y="346.7" width="0.85" height="0.85" fill="#000" opacity="0.59"/>
<rect x="80.7" y="345.8" width="0.85" height="0.85" fill="#000" opacity="0.41"/>
<rect x="81.6" y="348.3" width="0.85" height="0.85" fill="#000" opacity="0.37"/>
<rect x="78.1" y="345.9" width="0.85" height="0.85" fill="#000" opacity="0.31"/>
<rect x="85.4" y="343.6" width="0.85" height="0.85" fill="#000" opacity="0.74"/>
<rect x="79.7" y="342.1" width="0.85" height="0.85" fill="#000" opacity="0.43"/>
<rect x="82.9" y="342.5" width="0.85" height="0.85" fill="#000" opacity="0.45"/>
<rect x="85.2" y="347.2" width="0.85" height="0.85" fill="#000" opacity="0.58"/>
<rect x="85.5" y="350.0" width="0.85" height="0.85" fill="#000" opacity="0.43"/>
<rect x="79.6" y="340.1" width="0.85" height="0.85" fill="#000" opacity="0.69"/>
<rect x="84.5" y="347.7" width="0.85" height="0.85" fill="#000" opacity="0.63"/>
<rect x="83.6" y="345.8" width="0.85" height="0.85" fill="#000" opacity="0.64"/>
<rect x="81.4" y="335.7" width="0.85" height="0.85" fill="#000" opacity="0.49"/>
<rect x="83.9" y="339.8" width="0.85" height="0.85" fill="#000" opacity="0.81"/>
<rect x="88.3" y="347.0" width="0.85" height="0.85" fill="#000" opacity="0.53"/>
<rect x="82.1" y="347.4" width="0.85" height="0.85" fill="#000" opacity="0.43"/>
<rect x="82.5" y="337.0" width="0.85" height="0.85" fill="#000" opacity="0.38"/>
<rect x="82.2" y="348.7" width="0.85" height="0.85" fill="#000" opacity="0.41"/>
<rect x="83.3" y="351.3" width="0.85" height="0.85" fill="#000" opacity="0.84"/>
<rect x="87.0" y="345.8" width="0.85" height="0.85" fill="#000" opacity="0.56"/>
<rect x="79.7" y="332.1" width="0.85" height="0.85" fill="#000" opacity="0.52"/>
<rect x="83.5" y="328.4" width="0.85" height="0.85" fill="#000" opacity="0.31"/>
<rect x="80.5" y="328.6" width="0.85" height="0.85" fill="#000" opacity="0.49"/>
<rect x="86.4" y="334.2" width="0.85" height="0.85" fill="#000" opacity="0.35"/>
<rect x="81.8" y="328.3" width="0.85" height="0.85" fill="#000" opacity="0.29"/>
<rect x="86.5" y="329.7" width="0.85" height="0.85" fill="#000" opacity="0.50"/>
<rect x="84.4" y="328.8" width="0.85" height="0.85" fill="#000" opacity="0.38"/>
<rect x="85.3" y="328.1" width="0.85" height="0.85" fill="#000" opacity="0.51"/>
<rect x="162.9" y="343.2" width="0.85" height="0.85" fill="#000" opacity="0.36"/>
<rect x="173.1" y="344.0" width="0.85" height="0.85" fill="#000" opacity="0.44"/>
<rect x="169.8" y="342.4" width="0.85" height="0.85" fill="#000" opacity="0.41"/>
<rect x="167.0" y="347.1" width="0.85" height="0.85" fill="#000" opacity="0.57"/>
<rect x="172.0" y="341.2" width="0.85" height="0.85" fill="#000" opacity="0.69"/>
<rect x="165.4" y="352.4" width="0.85" height="0.85" fill="#000" opacity="0.74"/>
<rect x="166.4" y="333.4" width="0.85" height="0.85" fill="#000" opacity="0.75"/>
<rect x="167.9" y="347.4" width="0.85" height="0.85" fill="#000" opacity="0.66"/>
<rect x="170.0" y="341.5" width="0.85" height="0.85" fill="#000" opacity="0.63"/>
<rect x="171.1" y="337.2" width="0.85" height="0.85" fill="#000" opacity="0.30"/>
<rect x="168.3" y="346.1" width="0.85" height="0.85" fill="#000" opacity="0.36"/>
<rect x="169.8" y="340.4" width="0.85" height="0.85" fill="#000" opacity="0.63"/>
<rect x="166.6" y="347.4" width="0.85" height="0.85" fill="#000" opacity="0.42"/>
<rect x="167.3" y="342.7" width="0.85" height="0.85" fill="#000" opacity="0.35"/>
<rect x="165.4" y="349.0" width="0.85" height="0.85" fill="#000" opacity="0.74"/>
<rect x="171.6" y="352.0" width="0.85" height="0.85" fill="#000" opacity="0.32"/>
<rect x="169.5" y="342.7" width="0.85" height="0.85" fill="#000" opacity="0.45"/>
<rect x="171.1" y="344.6" width="0.85" height="0.85" fill="#000" opacity="0.42"/>
<rect x="171.4" y="340.9" width="0.85" height="0.85" fill="#000" opacity="0.79"/>
<rect x="166.5" y="350.2" width="0.85" height="0.85" fill="#000" opacity="0.83"/>
<rect x="161.3" y="345.3" width="0.85" height="0.85" fill="#000" opacity="0.40"/>
<rect x="169.5" y="343.0" width="0.85" height="0.85" fill="#000" opacity="0.59"/>
<rect x="170.4" y="346.0" width="0.85" height="0.85" fill="#000" opacity="0.82"/>
<rect x="164.4" y="349.0" width="0.85" height="0.85" fill="#000" opacity="0.44"/>
<rect x="168.1" y="348.1" width="0.85" height="0.85" fill="#000" opacity="0.60"/>
<rect x="170.7" y="340.7" width="0.85" height="0.85" fill="#000" opacity="0.51"/>
<rect x="173.6" y="340.7" width="0.85" height="0.85" fill="#000" opacity="0.67"/>
<rect x="171.9" y="349.7" width="0.85" height="0.85" fill="#000" opacity="0.54"/>
<rect x="171.1" y="344.6" width="0.85" height="0.85" fill="#000" opacity="0.66"/>
<rect x="167.2" y="341.8" width="0.85" height="0.85" fill="#000" opacity="0.59"/>
<rect x="166.4" y="334.7" width="0.85" height="0.85" fill="#000" opacity="0.57"/>
<rect x="173.2" y="349.9" width="0.85" height="0.85" fill="#000" opacity="0.68"/>
<rect x="166.3" y="343.8" width="0.85" height="0.85" fill="#000" opacity="0.71"/>
<rect x="171.9" y="340.1" width="0.85" height="0.85" fill="#000" opacity="0.71"/>
<rect x="171.0" y="347.1" width="0.85" height="0.85" fill="#000" opacity="0.38"/>
<rect x="173.8" y="342.4" width="0.85" height="0.85" fill="#000" opacity="0.38"/>
<rect x="166.0" y="342.0" width="0.85" height="0.85" fill="#000" opacity="0.33"/>
<rect x="165.6" y="352.0" width="0.85" height="0.85" fill="#000" opacity="0.65"/>
<rect x="168.0" y="353.0" width="0.85" height="0.85" fill="#000" opacity="0.53"/>
<rect x="172.4" y="344.9" width="0.85" height="0.85" fill="#000" opacity="0.74"/>
<rect x="167.7" y="340.9" width="0.85" height="0.85" fill="#000" opacity="0.83"/>
<rect x="167.8" y="337.4" width="0.85" height="0.85" fill="#000" opacity="0.45"/>
<rect x="170.5" y="352.5" width="0.85" height="0.85" fill="#000" opacity="0.75"/>
<rect x="169.4" y="340.8" width="0.85" height="0.85" fill="#000" opacity="0.38"/>
<rect x="163.7" y="344.8" width="0.85" height="0.85" fill="#000" opacity="0.39"/>
<rect x="168.7" y="342.5" width="0.85" height="0.85" fill="#000" opacity="0.47"/>
<rect x="170.8" y="347.6" width="0.85" height="0.85" fill="#000" opacity="0.51"/>
<rect x="175.1" y="342.9" width="0.85" height="0.85" fill="#000" opacity="0.40"/>
<rect x="169.5" y="350.8" width="0.85" height="0.85" fill="#000" opacity="0.54"/>
<rect x="170.3" y="348.8" width="0.85" height="0.85" fill="#000" opacity="0.52"/>
<rect x="168.6" y="349.9" width="0.85" height="0.85" fill="#000" opacity="0.80"/>
<rect x="164.3" y="349.4" width="0.85" height="0.85" fill="#000" opacity="0.65"/>
<rect x="169.2" y="341.0" width="0.85" height="0.85" fill="#000" opacity="0.38"/>
<rect x="168.9" y="339.5" width="0.85" height="0.85" fill="#000" opacity="0.61"/>
<rect x="166.8" y="337.5" width="0.85" height="0.85" fill="#000" opacity="0.45"/>
<rect x="166.8" y="345.1" width="0.85" height="0.85" fill="#000" opacity="0.65"/>
<rect x="173.3" y="348.8" width="0.85" height="0.85" fill="#000" opacity="0.61"/>
<rect x="168.6" y="350.3" width="0.85" height="0.85" fill="#000" opacity="0.34"/>
<rect x="164.8" y="343.1" width="0.85" height="0.85" fill="#000" opacity="0.67"/>
<rect x="164.9" y="351.5" width="0.85" height="0.85" fill="#000" opacity="0.36"/>
<rect x="167.5" y="353.8" width="0.85" height="0.85" fill="#000" opacity="0.83"/>
<rect x="166.2" y="339.4" width="0.85" height="0.85" fill="#000" opacity="0.73"/>
<rect x="164.1" y="354.5" width="0.85" height="0.85" fill="#000" opacity="0.71"/>
<rect x="167.4" y="350.9" width="0.85" height="0.85" fill="#000" opacity="0.74"/>
<rect x="167.9" y="349.0" width="0.85" height="0.85" fill="#000" opacity="0.78"/>
<rect x="165.8" y="344.6" width="0.85" height="0.85" fill="#000" opacity="0.67"/>
<rect x="169.9" y="344.2" width="0.85" height="0.85" fill="#000" opacity="0.49"/>
<rect x="171.2" y="348.4" width="0.85" height="0.85" fill="#000" opacity="0.58"/>
<rect x="171.0" y="339.1" width="0.85" height="0.85" fill="#000" opacity="0.62"/>
<rect x="166.1" y="350.3" width="0.85" height="0.85" fill="#000" opacity="0.45"/>
<rect x="171.3" y="337.5" width="0.85" height="0.85" fill="#000" opacity="0.76"/>
<rect x="171.0" y="353.0" width="0.85" height="0.85" fill="#000" opacity="0.71"/>
<rect x="163.5" y="346.0" width="0.85" height="0.85" fill="#000" opacity="0.79"/>
<rect x="168.6" y="335.3" width="0.85" height="0.85" fill="#000" opacity="0.66"/>
<rect x="169.8" y="343.9" width="0.85" height="0.85" fill="#000" opacity="0.69"/>
<rect x="167.8" y="338.3" width="0.85" height="0.85" fill="#000" opacity="0.45"/>
<rect x="171.9" y="349.2" width="0.85" height="0.85" fill="#000" opacity="0.75"/>
<rect x="168.6" y="350.0" width="0.85" height="0.85" fill="#000" opacity="0.42"/>
<rect x="171.9" y="350.8" width="0.85" height="0.85" fill="#000" opacity="0.84"/>
<rect x="169.6" y="340.8" width="0.85" height="0.85" fill="#000" opacity="0.68"/>
<rect x="173.1" y="350.9" width="0.85" height="0.85" fill="#000" opacity="0.48"/>
<rect x="172.3" y="346.2" width="0.85" height="0.85" fill="#000" opacity="0.38"/>
<rect x="168.7" y="348.0" width="0.85" height="0.85" fill="#000" opacity="0.55"/>
<rect x="164.5" y="342.4" width="0.85" height="0.85" fill="#000" opacity="0.32"/>
<rect x="169.4" y="343.5" width="0.85" height="0.85" fill="#000" opacity="0.42"/>
<rect x="167.2" y="342.2" width="0.85" height="0.85" fill="#000" opacity="0.48"/>
<rect x="167.2" y="344.3" width="0.85" height="0.85" fill="#000" opacity="0.74"/>
<rect x="169.9" y="339.3" width="0.85" height="0.85" fill="#000" opacity="0.32"/>
<rect x="168.9" y="344.6" width="0.85" height="0.85" fill="#000" opacity="0.58"/>
<rect x="168.0" y="347.0" width="0.85" height="0.85" fill="#000" opacity="0.65"/>
<rect x="168.3" y="338.4" width="0.85" height="0.85" fill="#000" opacity="0.52"/>
<rect x="165.5" y="345.4" width="0.85" height="0.85" fill="#000" opacity="0.42"/>
<rect x="171.4" y="348.9" width="0.85" height="0.85" fill="#000" opacity="0.37"/>
<rect x="165.2" y="348.5" width="0.85" height="0.85" fill="#000" opacity="0.69"/>
<rect x="166.6" y="347.5" width="0.85" height="0.85" fill="#000" opacity="0.40"/>
<rect x="167.1" y="348.7" width="0.85" height="0.85" fill="#000" opacity="0.41"/>
<rect x="168.5" y="339.0" width="0.85" height="0.85" fill="#000" opacity="0.54"/>
<rect x="170.1" y="354.6" width="0.85" height="0.85" fill="#000" opacity="0.41"/>
<rect x="168.5" y="353.4" width="0.85" height="0.85" fill="#000" opacity="0.69"/>
<rect x="172.9" y="344.4" width="0.85" height="0.85" fill="#000" opacity="0.82"/>
<rect x="172.3" y="341.5" width="0.85" height="0.85" fill="#000" opacity="0.70"/>
<rect x="170.4" y="347.5" width="0.85" height="0.85" fill="#000" opacity="0.31"/>
<rect x="171.4" y="339.0" width="0.85" height="0.85" fill="#000" opacity="0.65"/>
<rect x="168.6" y="351.4" width="0.85" height="0.85" fill="#000" opacity="0.39"/>
<rect x="168.5" y="347.6" width="0.85" height="0.85" fill="#000" opacity="0.40"/>
<rect x="169.7" y="340.0" width="0.85" height="0.85" fill="#000" opacity="0.36"/>
<rect x="169.9" y="348.1" width="0.85" height="0.85" fill="#000" opacity="0.73"/>
<rect x="161.3" y="349.2" width="0.85" height="0.85" fill="#000" opacity="0.80"/>
<rect x="169.6" y="339.7" width="0.85" height="0.85" fill="#000" opacity="0.75"/>
<rect x="169.6" y="348.0" width="0.85" height="0.85" fill="#000" opacity="0.61"/>
<rect x="167.1" y="345.8" width="0.85" height="0.85" fill="#000" opacity="0.44"/>
<rect x="174.2" y="347.7" width="0.85" height="0.85" fill="#000" opacity="0.69"/>
<rect x="175.4" y="340.5" width="0.85" height="0.85" fill="#000" opacity="0.54"/>
<rect x="168.5" y="340.3" width="0.85" height="0.85" fill="#000" opacity="0.75"/>
<rect x="169.5" y="343.4" width="0.85" height="0.85" fill="#000" opacity="0.31"/>
<rect x="169.5" y="353.5" width="0.85" height="0.85" fill="#000" opacity="0.51"/>
<rect x="173.5" y="346.6" width="0.85" height="0.85" fill="#000" opacity="0.73"/>
<rect x="168.1" y="346.4" width="0.85" height="0.85" fill="#000" opacity="0.79"/>
<rect x="167.9" y="345.5" width="0.85" height="0.85" fill="#000" opacity="0.48"/>
<rect x="165.1" y="337.5" width="0.85" height="0.85" fill="#000" opacity="0.57"/>
<rect x="167.7" y="343.0" width="0.85" height="0.85" fill="#000" opacity="0.43"/>
<rect x="170.8" y="342.8" width="0.85" height="0.85" fill="#000" opacity="0.36"/>
<rect x="167.7" y="344.4" width="0.85" height="0.85" fill="#000" opacity="0.41"/>
<rect x="165.6" y="348.1" width="0.85" height="0.85" fill="#000" opacity="0.65"/>
<rect x="168.1" y="340.0" width="0.85" height="0.85" fill="#000" opacity="0.34"/>
<rect x="168.7" y="344.1" width="0.85" height="0.85" fill="#000" opacity="0.56"/>
<rect x="165.8" y="351.1" width="0.85" height="0.85" fill="#000" opacity="0.69"/>
<rect x="169.0" y="354.4" width="0.85" height="0.85" fill="#000" opacity="0.68"/>
<rect x="167.4" y="346.6" width="0.85" height="0.85" fill="#000" opacity="0.80"/>
<rect x="168.1" y="344.8" width="0.85" height="0.85" fill="#000" opacity="0.43"/>
<rect x="170.6" y="345.7" width="0.85" height="0.85" fill="#000" opacity="0.52"/>
<rect x="169.9" y="335.5" width="0.85" height="0.85" fill="#000" opacity="0.65"/>
<rect x="168.8" y="344.4" width="0.85" height="0.85" fill="#000" opacity="0.35"/>
<rect x="173.3" y="344.4" width="0.85" height="0.85" fill="#000" opacity="0.32"/>
<rect x="170.6" y="347.3" width="0.85" height="0.85" fill="#000" opacity="0.81"/>
<rect x="169.5" y="354.5" width="0.85" height="0.85" fill="#000" opacity="0.81"/>
<rect x="165.2" y="336.0" width="0.85" height="0.85" fill="#000" opacity="0.44"/>
<rect x="169.1" y="346.9" width="0.85" height="0.85" fill="#000" opacity="0.72"/>
<rect x="168.4" y="342.4" width="0.85" height="0.85" fill="#000" opacity="0.74"/>
<rect x="170.4" y="351.9" width="0.85" height="0.85" fill="#000" opacity="0.36"/>
<rect x="170.0" y="334.1" width="0.85" height="0.85" fill="#000" opacity="0.80"/>
<rect x="173.7" y="346.2" width="0.85" height="0.85" fill="#000" opacity="0.61"/>
<rect x="170.1" y="339.8" width="0.85" height="0.85" fill="#000" opacity="0.64"/>
<rect x="165.1" y="340.2" width="0.85" height="0.85" fill="#000" opacity="0.34"/>
<rect x="171.8" y="348.4" width="0.85" height="0.85" fill="#000" opacity="0.46"/>
<rect x="168.6" y="346.4" width="0.85" height="0.85" fill="#000" opacity="0.71"/>
<rect x="173.4" y="347.6" width="0.85" height="0.85" fill="#000" opacity="0.75"/>
<rect x="167.6" y="346.8" width="0.85" height="0.85" fill="#000" opacity="0.66"/>
<rect x="169.5" y="351.9" width="0.85" height="0.85" fill="#000" opacity="0.36"/>
<rect x="171.9" y="344.9" width="0.85" height="0.85" fill="#000" opacity="0.49"/>
<rect x="172.2" y="351.2" width="0.85" height="0.85" fill="#000" opacity="0.77"/>
<rect x="169.5" y="343.8" width="0.85" height="0.85" fill="#000" opacity="0.50"/>
<rect x="170.8" y="352.3" width="0.85" height="0.85" fill="#000" opacity="0.84"/>
<rect x="168.8" y="345.3" width="0.85" height="0.85" fill="#000" opacity="0.34"/>
<rect x="171.7" y="351.8" width="0.85" height="0.85" fill="#000" opacity="0.63"/>
<rect x="166.1" y="345.2" width="0.85" height="0.85" fill="#000" opacity="0.52"/>
<rect x="166.0" y="340.6" width="0.85" height="0.85" fill="#000" opacity="0.80"/>
<rect x="168.3" y="335.7" width="0.85" height="0.85" fill="#000" opacity="0.80"/>
<rect x="170.9" y="338.1" width="0.85" height="0.85" fill="#000" opacity="0.32"/>
<rect x="166.8" y="335.8" width="0.85" height="0.85" fill="#000" opacity="0.54"/>
<rect x="169.9" y="343.5" width="0.85" height="0.85" fill="#000" opacity="0.82"/>
<rect x="165.1" y="349.3" width="0.85" height="0.85" fill="#000" opacity="0.44"/>
<rect x="168.1" y="351.1" width="0.85" height="0.85" fill="#000" opacity="0.48"/>
<rect x="171.0" y="349.5" width="0.85" height="0.85" fill="#000" opacity="0.84"/>
<rect x="165.5" y="334.9" width="0.85" height="0.85" fill="#000" opacity="0.72"/>
<rect x="168.8" y="341.4" width="0.85" height="0.85" fill="#000" opacity="0.44"/>
<rect x="168.4" y="346.6" width="0.85" height="0.85" fill="#000" opacity="0.43"/>
<rect x="173.1" y="337.4" width="0.85" height="0.85" fill="#000" opacity="0.48"/>
<rect x="169.4" y="336.1" width="0.85" height="0.85" fill="#000" opacity="0.79"/>
<rect x="169.7" y="339.1" width="0.85" height="0.85" fill="#000" opacity="0.36"/>
<rect x="169.8" y="341.5" width="0.85" height="0.85" fill="#000" opacity="0.64"/>
<rect x="166.7" y="351.3" width="0.85" height="0.85" fill="#000" opacity="0.83"/>
<rect x="170.4" y="352.1" width="0.85" height="0.85" fill="#000" opacity="0.66"/>
<rect x="163.1" y="342.7" width="0.85" height="0.85" fill="#000" opacity="0.52"/>
<rect x="172.1" y="341.4" width="0.85" height="0.85" fill="#000" opacity="0.83"/>
<rect x="170.3" y="348.1" width="0.85" height="0.85" fill="#000" opacity="0.46"/>
<rect x="169.1" y="345.5" width="0.85" height="0.85" fill="#000" opacity="0.44"/>
<rect x="170.0" y="351.6" width="0.85" height="0.85" fill="#000" opacity="0.68"/>
<rect x="167.3" y="337.1" width="0.85" height="0.85" fill="#000" opacity="0.71"/>
<rect x="168.8" y="350.5" width="0.85" height="0.85" fill="#000" opacity="0.32"/>
<rect x="168.2" y="342.3" width="0.85" height="0.85" fill="#000" opacity="0.44"/>
<rect x="172.3" y="344.1" width="0.85" height="0.85" fill="#000" opacity="0.63"/>
<rect x="166.9" y="339.5" width="0.85" height="0.85" fill="#000" opacity="0.68"/>
<rect x="168.5" y="348.0" width="0.85" height="0.85" fill="#000" opacity="0.34"/>
<rect x="171.2" y="346.5" width="0.85" height="0.85" fill="#000" opacity="0.38"/>
<rect x="171.0" y="350.4" width="0.85" height="0.85" fill="#000" opacity="0.83"/>
<rect x="168.0" y="341.7" width="0.85" height="0.85" fill="#000" opacity="0.72"/>
<rect x="169.3" y="348.4" width="0.85" height="0.85" fill="#000" opacity="0.47"/>
<rect x="165.6" y="350.8" width="0.85" height="0.85" fill="#000" opacity="0.54"/>
<rect x="168.6" y="343.4" width="0.85" height="0.85" fill="#000" opacity="0.81"/>
<rect x="173.4" y="348.1" width="0.85" height="0.85" fill="#000" opacity="0.42"/>
<rect x="171.6" y="337.7" width="0.85" height="0.85" fill="#000" opacity="0.67"/>
<rect x="168.7" y="346.8" width="0.85" height="0.85" fill="#000" opacity="0.40"/>
<rect x="170.0" y="344.1" width="0.85" height="0.85" fill="#000" opacity="0.66"/>
<rect x="165.7" y="341.6" width="0.85" height="0.85" fill="#000" opacity="0.40"/>
<rect x="169.5" y="348.1" width="0.85" height="0.85" fill="#000" opacity="0.84"/>
<rect x="166.1" y="351.7" width="0.85" height="0.85" fill="#000" opacity="0.61"/>
<rect x="169.0" y="348.1" width="0.85" height="0.85" fill="#000" opacity="0.31"/>
<rect x="169.6" y="343.6" width="0.85" height="0.85" fill="#000" opacity="0.83"/>
<rect x="166.2" y="353.0" width="0.85" height="0.85" fill="#000" opacity="0.38"/>
<rect x="169.2" y="341.7" width="0.85" height="0.85" fill="#000" opacity="0.50"/>
<rect x="167.6" y="345.6" width="0.85" height="0.85" fill="#000" opacity="0.44"/>
<rect x="169.4" y="341.4" width="0.85" height="0.85" fill="#000" opacity="0.51"/>
<rect x="169.0" y="341.9" width="0.85" height="0.85" fill="#000" opacity="0.41"/>
<rect x="169.3" y="351.6" width="0.85" height="0.85" fill="#000" opacity="0.50"/>
<rect x="167.0" y="340.9" width="0.85" height="0.85" fill="#000" opacity="0.78"/>
<rect x="172.3" y="348.7" width="0.85" height="0.85" fill="#000" opacity="0.76"/>
<rect x="168.9" y="347.4" width="0.85" height="0.85" fill="#000" opacity="0.54"/>
<rect x="170.9" y="350.3" width="0.85" height="0.85" fill="#000" opacity="0.69"/>
<rect x="170.3" y="325.7" width="0.85" height="0.85" fill="#000" opacity="0.34"/>
<rect x="170.1" y="327.9" width="0.85" height="0.85" fill="#000" opacity="0.33"/>
<rect x="170.0" y="325.5" width="0.85" height="0.85" fill="#000" opacity="0.31"/>
<rect x="163.8" y="326.7" width="0.85" height="0.85" fill="#000" opacity="0.37"/>
<rect x="170.8" y="325.8" width="0.85" height="0.85" fill="#000" opacity="0.42"/>
<rect x="164.8" y="319.3" width="0.85" height="0.85" fill="#000" opacity="0.49"/>
<rect x="170.0" y="321.7" width="0.85" height="0.85" fill="#000" opacity="0.48"/>
<rect x="167.5" y="323.3" width="0.85" height="0.85" fill="#000" opacity="0.25"/>
<rect x="170.4" y="320.9" width="0.85" height="0.85" fill="#000" opacity="0.22"/>
<rect x="165.5" y="326.4" width="0.85" height="0.85" fill="#000" opacity="0.22"/>
<rect x="167.3" y="325.5" width="0.85" height="0.85" fill="#000" opacity="0.26"/>
<rect x="168.1" y="319.1" width="0.85" height="0.85" fill="#000" opacity="0.24"/>
<rect x="172.0" y="323.3" width="0.85" height="0.85" fill="#000" opacity="0.25"/>
<rect x="172.8" y="324.6" width="0.85" height="0.85" fill="#000" opacity="0.35"/>
<rect x="172.0" y="325.0" width="0.85" height="0.85" fill="#000" opacity="0.42"/>
<rect x="167.6" y="323.0" width="0.85" height="0.85" fill="#000" opacity="0.35"/>
<rect x="166.5" y="318.7" width="0.85" height="0.85" fill="#000" opacity="0.24"/>
<rect x="169.0" y="312.2" width="0.85" height="0.85" fill="#000" opacity="0.31"/>
<rect x="170.5" y="321.8" width="0.85" height="0.85" fill="#000" opacity="0.27"/>
<rect x="165.1" y="316.5" width="0.85" height="0.85" fill="#000" opacity="0.22"/>
<rect x="169.4" y="325.6" width="0.85" height="0.85" fill="#000" opacity="0.33"/>
<rect x="170.3" y="327.0" width="0.85" height="0.85" fill="#000" opacity="0.42"/>
<rect x="164.4" y="316.9" width="0.85" height="0.85" fill="#000" opacity="0.32"/>
<rect x="169.1" y="323.1" width="0.85" height="0.85" fill="#000" opacity="0.48"/>
<rect x="169.6" y="330.8" width="0.85" height="0.85" fill="#000" opacity="0.35"/>
<rect x="171.9" y="321.8" width="0.85" height="0.85" fill="#000" opacity="0.50"/>
<rect x="168.1" y="321.1" width="0.85" height="0.85" fill="#000" opacity="0.45"/>
<rect x="167.6" y="325.2" width="0.85" height="0.85" fill="#000" opacity="0.49"/>
<rect x="168.2" y="329.5" width="0.85" height="0.85" fill="#000" opacity="0.30"/>
<rect x="258.0" y="344.9" width="0.85" height="0.85" fill="#000" opacity="0.51"/>
<rect x="262.0" y="346.0" width="0.85" height="0.85" fill="#000" opacity="0.44"/>
<rect x="255.0" y="348.1" width="0.85" height="0.85" fill="#000" opacity="0.69"/>
<rect x="259.6" y="349.3" width="0.85" height="0.85" fill="#000" opacity="0.37"/>
<rect x="259.8" y="345.2" width="0.85" height="0.85" fill="#000" opacity="0.38"/>
<rect x="254.8" y="344.9" width="0.85" height="0.85" fill="#000" opacity="0.79"/>
<rect x="260.1" y="347.5" width="0.85" height="0.85" fill="#000" opacity="0.39"/>
<rect x="255.8" y="342.7" width="0.85" height="0.85" fill="#000" opacity="0.52"/>
<rect x="261.3" y="340.5" width="0.85" height="0.85" fill="#000" opacity="0.77"/>
<rect x="260.4" y="344.8" width="0.85" height="0.85" fill="#000" opacity="0.82"/>
<rect x="257.6" y="347.0" width="0.85" height="0.85" fill="#000" opacity="0.80"/>
<rect x="258.7" y="346.7" width="0.85" height="0.85" fill="#000" opacity="0.46"/>
<rect x="260.2" y="341.6" width="0.85" height="0.85" fill="#000" opacity="0.59"/>
<rect x="261.1" y="337.4" width="0.85" height="0.85" fill="#000" opacity="0.66"/>
<rect x="257.0" y="345.8" width="0.85" height="0.85" fill="#000" opacity="0.43"/>
<rect x="256.3" y="339.5" width="0.85" height="0.85" fill="#000" opacity="0.74"/>
<rect x="263.9" y="337.2" width="0.85" height="0.85" fill="#000" opacity="0.41"/>
<rect x="263.4" y="351.7" width="0.85" height="0.85" fill="#000" opacity="0.61"/>
<rect x="260.0" y="354.1" width="0.85" height="0.85" fill="#000" opacity="0.44"/>
<rect x="258.5" y="351.5" width="0.85" height="0.85" fill="#000" opacity="0.59"/>
<rect x="257.8" y="344.0" width="0.85" height="0.85" fill="#000" opacity="0.71"/>
<rect x="256.1" y="341.4" width="0.85" height="0.85" fill="#000" opacity="0.67"/>
<rect x="258.4" y="345.2" width="0.85" height="0.85" fill="#000" opacity="0.56"/>
<rect x="256.4" y="337.8" width="0.85" height="0.85" fill="#000" opacity="0.66"/>
<rect x="258.7" y="341.9" width="0.85" height="0.85" fill="#000" opacity="0.54"/>
<rect x="260.1" y="345.0" width="0.85" height="0.85" fill="#000" opacity="0.53"/>
<rect x="263.9" y="343.0" width="0.85" height="0.85" fill="#000" opacity="0.43"/>
<rect x="258.1" y="340.5" width="0.85" height="0.85" fill="#000" opacity="0.66"/>
<rect x="258.4" y="343.0" width="0.85" height="0.85" fill="#000" opacity="0.42"/>
<rect x="258.8" y="350.5" width="0.85" height="0.85" fill="#000" opacity="0.32"/>
<rect x="260.1" y="350.5" width="0.85" height="0.85" fill="#000" opacity="0.53"/>
<rect x="261.5" y="349.6" width="0.85" height="0.85" fill="#000" opacity="0.82"/>
<rect x="256.1" y="343.5" width="0.85" height="0.85" fill="#000" opacity="0.69"/>
<rect x="256.8" y="347.4" width="0.85" height="0.85" fill="#000" opacity="0.56"/>
<rect x="262.3" y="347.0" width="0.85" height="0.85" fill="#000" opacity="0.39"/>
<rect x="258.8" y="335.0" width="0.85" height="0.85" fill="#000" opacity="0.65"/>
<rect x="255.5" y="339.2" width="0.85" height="0.85" fill="#000" opacity="0.83"/>
<rect x="257.6" y="350.2" width="0.85" height="0.85" fill="#000" opacity="0.75"/>
<rect x="254.1" y="339.3" width="0.85" height="0.85" fill="#000" opacity="0.78"/>
<rect x="256.8" y="344.0" width="0.85" height="0.85" fill="#000" opacity="0.31"/>
<rect x="254.1" y="344.0" width="0.85" height="0.85" fill="#000" opacity="0.45"/>
<rect x="258.5" y="346.2" width="0.85" height="0.85" fill="#000" opacity="0.40"/>
<rect x="258.2" y="345.5" width="0.85" height="0.85" fill="#000" opacity="0.43"/>
<rect x="258.8" y="345.9" width="0.85" height="0.85" fill="#000" opacity="0.36"/>
<rect x="264.9" y="339.9" width="0.85" height="0.85" fill="#000" opacity="0.38"/>
<rect x="256.6" y="352.1" width="0.85" height="0.85" fill="#000" opacity="0.48"/>
<rect x="255.6" y="349.3" width="0.85" height="0.85" fill="#000" opacity="0.44"/>
<rect x="259.4" y="346.8" width="0.85" height="0.85" fill="#000" opacity="0.39"/>
<rect x="261.5" y="350.4" width="0.85" height="0.85" fill="#000" opacity="0.68"/>
<rect x="258.0" y="340.7" width="0.85" height="0.85" fill="#000" opacity="0.57"/>
<rect x="257.5" y="345.3" width="0.85" height="0.85" fill="#000" opacity="0.38"/>
<rect x="257.4" y="340.6" width="0.85" height="0.85" fill="#000" opacity="0.69"/>
<rect x="258.7" y="343.6" width="0.85" height="0.85" fill="#000" opacity="0.62"/>
<rect x="259.8" y="354.5" width="0.85" height="0.85" fill="#000" opacity="0.74"/>
<rect x="258.8" y="341.9" width="0.85" height="0.85" fill="#000" opacity="0.35"/>
<rect x="256.5" y="339.6" width="0.85" height="0.85" fill="#000" opacity="0.38"/>
<rect x="259.6" y="353.2" width="0.85" height="0.85" fill="#000" opacity="0.36"/>
<rect x="257.0" y="342.8" width="0.85" height="0.85" fill="#000" opacity="0.44"/>
<rect x="255.3" y="349.3" width="0.85" height="0.85" fill="#000" opacity="0.70"/>
<rect x="262.6" y="347.8" width="0.85" height="0.85" fill="#000" opacity="0.42"/>
<rect x="257.3" y="354.0" width="0.85" height="0.85" fill="#000" opacity="0.68"/>
<rect x="253.9" y="337.8" width="0.85" height="0.85" fill="#000" opacity="0.41"/>
<rect x="256.8" y="353.9" width="0.85" height="0.85" fill="#000" opacity="0.44"/>
<rect x="259.4" y="349.5" width="0.85" height="0.85" fill="#000" opacity="0.72"/>
<rect x="260.3" y="337.9" width="0.85" height="0.85" fill="#000" opacity="0.83"/>
<rect x="258.9" y="341.2" width="0.85" height="0.85" fill="#000" opacity="0.47"/>
<rect x="258.1" y="344.1" width="0.85" height="0.85" fill="#000" opacity="0.64"/>
<rect x="259.0" y="347.0" width="0.85" height="0.85" fill="#000" opacity="0.58"/>
<rect x="260.5" y="341.5" width="0.85" height="0.85" fill="#000" opacity="0.41"/>
<rect x="260.6" y="350.7" width="0.85" height="0.85" fill="#000" opacity="0.59"/>
<rect x="255.5" y="353.0" width="0.85" height="0.85" fill="#000" opacity="0.59"/>
<rect x="258.5" y="343.3" width="0.85" height="0.85" fill="#000" opacity="0.34"/>
<rect x="255.9" y="350.3" width="0.85" height="0.85" fill="#000" opacity="0.44"/>
<rect x="257.4" y="342.4" width="0.85" height="0.85" fill="#000" opacity="0.48"/>
<rect x="254.1" y="347.3" width="0.85" height="0.85" fill="#000" opacity="0.72"/>
<rect x="256.3" y="350.6" width="0.85" height="0.85" fill="#000" opacity="0.81"/>
<rect x="261.7" y="342.8" width="0.85" height="0.85" fill="#000" opacity="0.36"/>
<rect x="254.6" y="348.3" width="0.85" height="0.85" fill="#000" opacity="0.45"/>
<rect x="265.7" y="349.8" width="0.85" height="0.85" fill="#000" opacity="0.80"/>
<rect x="260.4" y="350.7" width="0.85" height="0.85" fill="#000" opacity="0.64"/>
<rect x="258.0" y="348.1" width="0.85" height="0.85" fill="#000" opacity="0.71"/>
<rect x="258.7" y="339.8" width="0.85" height="0.85" fill="#000" opacity="0.35"/>
<rect x="257.4" y="347.6" width="0.85" height="0.85" fill="#000" opacity="0.83"/>
<rect x="260.4" y="347.5" width="0.85" height="0.85" fill="#000" opacity="0.72"/>
<rect x="259.1" y="348.1" width="0.85" height="0.85" fill="#000" opacity="0.34"/>
<rect x="260.0" y="352.1" width="0.85" height="0.85" fill="#000" opacity="0.76"/>
<rect x="259.1" y="349.1" width="0.85" height="0.85" fill="#000" opacity="0.72"/>
<rect x="256.1" y="348.4" width="0.85" height="0.85" fill="#000" opacity="0.37"/>
<rect x="259.9" y="349.0" width="0.85" height="0.85" fill="#000" opacity="0.71"/>
<rect x="262.8" y="338.1" width="0.85" height="0.85" fill="#000" opacity="0.56"/>
<rect x="261.8" y="343.9" width="0.85" height="0.85" fill="#000" opacity="0.46"/>
<rect x="254.1" y="348.0" width="0.85" height="0.85" fill="#000" opacity="0.70"/>
<rect x="259.5" y="348.8" width="0.85" height="0.85" fill="#000" opacity="0.83"/>
<rect x="262.2" y="352.6" width="0.85" height="0.85" fill="#000" opacity="0.49"/>
<rect x="258.3" y="350.5" width="0.85" height="0.85" fill="#000" opacity="0.56"/>
<rect x="259.8" y="345.8" width="0.85" height="0.85" fill="#000" opacity="0.77"/>
<rect x="257.6" y="349.2" width="0.85" height="0.85" fill="#000" opacity="0.71"/>
<rect x="257.4" y="349.1" width="0.85" height="0.85" fill="#000" opacity="0.53"/>
<rect x="260.6" y="335.6" width="0.85" height="0.85" fill="#000" opacity="0.62"/>
<rect x="262.9" y="346.6" width="0.85" height="0.85" fill="#000" opacity="0.63"/>
<rect x="263.7" y="337.6" width="0.85" height="0.85" fill="#000" opacity="0.48"/>
<rect x="261.2" y="337.3" width="0.85" height="0.85" fill="#000" opacity="0.45"/>
<rect x="256.6" y="350.2" width="0.85" height="0.85" fill="#000" opacity="0.49"/>
<rect x="257.4" y="347.9" width="0.85" height="0.85" fill="#000" opacity="0.42"/>
<rect x="260.6" y="342.8" width="0.85" height="0.85" fill="#000" opacity="0.65"/>
<rect x="261.7" y="339.7" width="0.85" height="0.85" fill="#000" opacity="0.43"/>
<rect x="262.6" y="340.9" width="0.85" height="0.85" fill="#000" opacity="0.84"/>
<rect x="257.7" y="336.4" width="0.85" height="0.85" fill="#000" opacity="0.75"/>
<rect x="258.2" y="354.5" width="0.85" height="0.85" fill="#000" opacity="0.51"/>
<rect x="259.1" y="343.4" width="0.85" height="0.85" fill="#000" opacity="0.60"/>
<rect x="261.5" y="336.3" width="0.85" height="0.85" fill="#000" opacity="0.38"/>
<rect x="262.4" y="342.4" width="0.85" height="0.85" fill="#000" opacity="0.67"/>
<rect x="257.8" y="344.5" width="0.85" height="0.85" fill="#000" opacity="0.78"/>
<rect x="255.5" y="344.1" width="0.85" height="0.85" fill="#000" opacity="0.49"/>
<rect x="259.3" y="336.1" width="0.85" height="0.85" fill="#000" opacity="0.78"/>
<rect x="258.9" y="351.2" width="0.85" height="0.85" fill="#000" opacity="0.44"/>
<rect x="260.2" y="349.0" width="0.85" height="0.85" fill="#000" opacity="0.31"/>
<rect x="258.9" y="342.0" width="0.85" height="0.85" fill="#000" opacity="0.34"/>
<rect x="262.3" y="349.9" width="0.85" height="0.85" fill="#000" opacity="0.41"/>
<rect x="255.6" y="347.4" width="0.85" height="0.85" fill="#000" opacity="0.74"/>
<rect x="260.5" y="344.6" width="0.85" height="0.85" fill="#000" opacity="0.65"/>
<rect x="260.7" y="342.0" width="0.85" height="0.85" fill="#000" opacity="0.79"/>
<rect x="258.1" y="341.0" width="0.85" height="0.85" fill="#000" opacity="0.78"/>
<rect x="257.2" y="344.8" width="0.85" height="0.85" fill="#000" opacity="0.62"/>
<rect x="259.9" y="339.8" width="0.85" height="0.85" fill="#000" opacity="0.57"/>
<rect x="253.5" y="352.0" width="0.85" height="0.85" fill="#000" opacity="0.67"/>
<rect x="259.0" y="351.3" width="0.85" height="0.85" fill="#000" opacity="0.50"/>
<rect x="262.3" y="343.7" width="0.85" height="0.85" fill="#000" opacity="0.37"/>
<rect x="258.9" y="345.2" width="0.85" height="0.85" fill="#000" opacity="0.62"/>
<rect x="254.4" y="349.8" width="0.85" height="0.85" fill="#000" opacity="0.54"/>
<rect x="261.1" y="349.9" width="0.85" height="0.85" fill="#000" opacity="0.75"/>
<rect x="258.9" y="340.7" width="0.85" height="0.85" fill="#000" opacity="0.42"/>
<rect x="258.1" y="335.6" width="0.85" height="0.85" fill="#000" opacity="0.42"/>
<rect x="264.6" y="333.9" width="0.85" height="0.85" fill="#000" opacity="0.54"/>
<rect x="255.2" y="352.2" width="0.85" height="0.85" fill="#000" opacity="0.81"/>
<rect x="259.0" y="350.7" width="0.85" height="0.85" fill="#000" opacity="0.48"/>
<rect x="258.1" y="342.3" width="0.85" height="0.85" fill="#000" opacity="0.60"/>
<rect x="254.3" y="346.0" width="0.85" height="0.85" fill="#000" opacity="0.38"/>
<rect x="253.8" y="342.1" width="0.85" height="0.85" fill="#000" opacity="0.40"/>
<rect x="261.2" y="342.1" width="0.85" height="0.85" fill="#000" opacity="0.72"/>
<rect x="260.0" y="342.0" width="0.85" height="0.85" fill="#000" opacity="0.81"/>
<rect x="258.5" y="347.2" width="0.85" height="0.85" fill="#000" opacity="0.58"/>
<rect x="263.0" y="338.6" width="0.85" height="0.85" fill="#000" opacity="0.83"/>
<rect x="252.0" y="345.1" width="0.85" height="0.85" fill="#000" opacity="0.61"/>
<rect x="260.7" y="352.4" width="0.85" height="0.85" fill="#000" opacity="0.74"/>
<rect x="255.0" y="349.6" width="0.85" height="0.85" fill="#000" opacity="0.44"/>
<rect x="257.8" y="352.0" width="0.85" height="0.85" fill="#000" opacity="0.58"/>
<rect x="257.1" y="346.5" width="0.85" height="0.85" fill="#000" opacity="0.30"/>
<rect x="256.0" y="353.8" width="0.85" height="0.85" fill="#000" opacity="0.71"/>
<rect x="258.5" y="350.4" width="0.85" height="0.85" fill="#000" opacity="0.58"/>
<rect x="260.0" y="353.0" width="0.85" height="0.85" fill="#000" opacity="0.80"/>
<rect x="259.4" y="353.4" width="0.85" height="0.85" fill="#000" opacity="0.70"/>
<rect x="258.3" y="336.8" width="0.85" height="0.85" fill="#000" opacity="0.69"/>
<rect x="259.1" y="345.1" width="0.85" height="0.85" fill="#000" opacity="0.82"/>
<rect x="257.2" y="346.9" width="0.85" height="0.85" fill="#000" opacity="0.34"/>
<rect x="259.5" y="337.6" width="0.85" height="0.85" fill="#000" opacity="0.38"/>
<rect x="254.6" y="348.1" width="0.85" height="0.85" fill="#000" opacity="0.85"/>
<rect x="255.9" y="354.5" width="0.85" height="0.85" fill="#000" opacity="0.43"/>
<rect x="258.8" y="349.3" width="0.85" height="0.85" fill="#000" opacity="0.53"/>
<rect x="256.6" y="342.7" width="0.85" height="0.85" fill="#000" opacity="0.39"/>
<rect x="258.5" y="348.4" width="0.85" height="0.85" fill="#000" opacity="0.41"/>
<rect x="257.0" y="352.3" width="0.85" height="0.85" fill="#000" opacity="0.40"/>
<rect x="255.4" y="346.8" width="0.85" height="0.85" fill="#000" opacity="0.84"/>
<rect x="251.8" y="347.2" width="0.85" height="0.85" fill="#000" opacity="0.56"/>
<rect x="259.5" y="353.4" width="0.85" height="0.85" fill="#000" opacity="0.38"/>
<rect x="258.8" y="348.0" width="0.85" height="0.85" fill="#000" opacity="0.69"/>
<rect x="261.0" y="344.8" width="0.85" height="0.85" fill="#000" opacity="0.49"/>
<rect x="256.1" y="348.4" width="0.85" height="0.85" fill="#000" opacity="0.68"/>
<rect x="257.1" y="348.1" width="0.85" height="0.85" fill="#000" opacity="0.78"/>
<rect x="258.0" y="345.7" width="0.85" height="0.85" fill="#000" opacity="0.77"/>
<rect x="258.0" y="340.6" width="0.85" height="0.85" fill="#000" opacity="0.65"/>
<rect x="260.7" y="343.2" width="0.85" height="0.85" fill="#000" opacity="0.54"/>
<rect x="257.3" y="353.0" width="0.85" height="0.85" fill="#000" opacity="0.66"/>
<rect x="259.9" y="350.4" width="0.85" height="0.85" fill="#000" opacity="0.77"/>
<rect x="259.2" y="338.5" width="0.85" height="0.85" fill="#000" opacity="0.67"/>
<rect x="255.7" y="344.2" width="0.85" height="0.85" fill="#000" opacity="0.40"/>
<rect x="262.6" y="354.2" width="0.85" height="0.85" fill="#000" opacity="0.74"/>
<rect x="260.7" y="346.9" width="0.85" height="0.85" fill="#000" opacity="0.56"/>
<rect x="255.7" y="346.1" width="0.85" height="0.85" fill="#000" opacity="0.79"/>
<rect x="256.3" y="351.8" width="0.85" height="0.85" fill="#000" opacity="0.81"/>
<rect x="256.3" y="340.9" width="0.85" height="0.85" fill="#000" opacity="0.48"/>
<rect x="255.5" y="351.2" width="0.85" height="0.85" fill="#000" opacity="0.73"/>
<rect x="258.1" y="351.6" width="0.85" height="0.85" fill="#000" opacity="0.51"/>
<rect x="256.2" y="344.9" width="0.85" height="0.85" fill="#000" opacity="0.48"/>
<rect x="259.0" y="342.9" width="0.85" height="0.85" fill="#000" opacity="0.68"/>
<rect x="260.1" y="346.5" width="0.85" height="0.85" fill="#000" opacity="0.33"/>
<rect x="258.8" y="342.9" width="0.85" height="0.85" fill="#000" opacity="0.43"/>
<rect x="260.3" y="347.6" width="0.85" height="0.85" fill="#000" opacity="0.70"/>
<rect x="257.2" y="333.5" width="0.85" height="0.85" fill="#000" opacity="0.82"/>
<rect x="252.5" y="341.9" width="0.85" height="0.85" fill="#000" opacity="0.35"/>
<rect x="260.9" y="343.2" width="0.85" height="0.85" fill="#000" opacity="0.41"/>
<rect x="258.2" y="334.5" width="0.85" height="0.85" fill="#000" opacity="0.51"/>
<rect x="262.9" y="352.5" width="0.85" height="0.85" fill="#000" opacity="0.71"/>
<rect x="252.2" y="336.9" width="0.85" height="0.85" fill="#000" opacity="0.32"/>
<rect x="259.6" y="347.0" width="0.85" height="0.85" fill="#000" opacity="0.31"/>
<rect x="257.3" y="338.1" width="0.85" height="0.85" fill="#000" opacity="0.36"/>
<rect x="259.2" y="349.1" width="0.85" height="0.85" fill="#000" opacity="0.64"/>
<rect x="255.8" y="348.3" width="0.85" height="0.85" fill="#000" opacity="0.44"/>
<rect x="262.5" y="345.7" width="0.85" height="0.85" fill="#000" opacity="0.40"/>
<rect x="259.0" y="349.0" width="0.85" height="0.85" fill="#000" opacity="0.49"/>
<rect x="258.2" y="344.0" width="0.85" height="0.85" fill="#000" opacity="0.59"/>
<rect x="258.0" y="344.6" width="0.85" height="0.85" fill="#000" opacity="0.54"/>
<rect x="259.2" y="338.7" width="0.85" height="0.85" fill="#000" opacity="0.55"/>
<rect x="261.0" y="340.7" width="0.85" height="0.85" fill="#000" opacity="0.49"/>
<rect x="253.2" y="354.5" width="0.85" height="0.85" fill="#000" opacity="0.77"/>
<rect x="261.3" y="342.2" width="0.85" height="0.85" fill="#000" opacity="0.38"/>
<rect x="259.5" y="351.1" width="0.85" height="0.85" fill="#000" opacity="0.68"/>
<rect x="263.2" y="346.3" width="0.85" height="0.85" fill="#000" opacity="0.73"/>
<rect x="258.0" y="345.9" width="0.85" height="0.85" fill="#000" opacity="0.74"/>
<rect x="254.9" y="350.4" width="0.85" height="0.85" fill="#000" opacity="0.61"/>
<rect x="257.9" y="340.1" width="0.85" height="0.85" fill="#000" opacity="0.83"/>
<rect x="264.3" y="342.3" width="0.85" height="0.85" fill="#000" opacity="0.64"/>
<rect x="257.2" y="351.2" width="0.85" height="0.85" fill="#000" opacity="0.45"/>
<rect x="262.2" y="340.2" width="0.85" height="0.85" fill="#000" opacity="0.73"/>
<rect x="257.4" y="341.3" width="0.85" height="0.85" fill="#000" opacity="0.72"/>
<rect x="258.0" y="353.9" width="0.85" height="0.85" fill="#000" opacity="0.39"/>
<rect x="260.3" y="340.8" width="0.85" height="0.85" fill="#000" opacity="0.45"/>
<rect x="259.3" y="344.9" width="0.85" height="0.85" fill="#000" opacity="0.81"/>
<rect x="258.4" y="342.7" width="0.85" height="0.85" fill="#000" opacity="0.72"/>
<rect x="253.0" y="340.4" width="0.85" height="0.85" fill="#000" opacity="0.62"/>
<rect x="252.7" y="352.0" width="0.85" height="0.85" fill="#000" opacity="0.35"/>
<rect x="258.5" y="343.3" width="0.85" height="0.85" fill="#000" opacity="0.45"/>
<rect x="262.4" y="353.7" width="0.85" height="0.85" fill="#000" opacity="0.54"/>
<rect x="258.0" y="341.6" width="0.85" height="0.85" fill="#000" opacity="0.70"/>
<rect x="257.6" y="343.9" width="0.85" height="0.85" fill="#000" opacity="0.57"/>
<rect x="258.0" y="342.0" width="0.85" height="0.85" fill="#000" opacity="0.66"/>
<rect x="257.8" y="351.5" width="0.85" height="0.85" fill="#000" opacity="0.81"/>
<rect x="267.2" y="338.9" width="0.85" height="0.85" fill="#000" opacity="0.53"/>
<rect x="253.9" y="341.4" width="0.85" height="0.85" fill="#000" opacity="0.72"/>
<rect x="253.1" y="349.1" width="0.85" height="0.85" fill="#000" opacity="0.52"/>
<rect x="261.2" y="344.0" width="0.85" height="0.85" fill="#000" opacity="0.37"/>
<rect x="258.3" y="342.8" width="0.85" height="0.85" fill="#000" opacity="0.67"/>
<rect x="265.9" y="351.7" width="0.85" height="0.85" fill="#000" opacity="0.60"/>
<rect x="258.2" y="342.9" width="0.85" height="0.85" fill="#000" opacity="0.65"/>
<rect x="256.8" y="349.1" width="0.85" height="0.85" fill="#000" opacity="0.75"/>
<rect x="261.3" y="347.4" width="0.85" height="0.85" fill="#000" opacity="0.35"/>
<rect x="261.7" y="336.1" width="0.85" height="0.85" fill="#000" opacity="0.32"/>
<rect x="255.3" y="347.4" width="0.85" height="0.85" fill="#000" opacity="0.70"/>
<rect x="258.0" y="340.7" width="0.85" height="0.85" fill="#000" opacity="0.81"/>
<rect x="258.9" y="348.9" width="0.85" height="0.85" fill="#000" opacity="0.75"/>
<rect x="259.6" y="348.5" width="0.85" height="0.85" fill="#000" opacity="0.58"/>
<rect x="257.5" y="349.0" width="0.85" height="0.85" fill="#000" opacity="0.81"/>
<rect x="253.6" y="347.7" width="0.85" height="0.85" fill="#000" opacity="0.44"/>
<rect x="259.9" y="343.9" width="0.85" height="0.85" fill="#000" opacity="0.80"/>
<rect x="252.8" y="335.9" width="0.85" height="0.85" fill="#000" opacity="0.72"/>
<rect x="256.0" y="340.8" width="0.85" height="0.85" fill="#000" opacity="0.77"/>
<rect x="257.1" y="346.9" width="0.85" height="0.85" fill="#000" opacity="0.80"/>
<rect x="259.7" y="337.8" width="0.85" height="0.85" fill="#000" opacity="0.71"/>
<rect x="258.6" y="352.4" width="0.85" height="0.85" fill="#000" opacity="0.75"/>
<rect x="264.2" y="342.9" width="0.85" height="0.85" fill="#000" opacity="0.39"/>
<rect x="256.9" y="339.3" width="0.85" height="0.85" fill="#000" opacity="0.52"/>
<rect x="259.0" y="348.7" width="0.85" height="0.85" fill="#000" opacity="0.56"/>
<rect x="256.2" y="346.2" width="0.85" height="0.85" fill="#000" opacity="0.50"/>
<rect x="254.0" y="342.7" width="0.85" height="0.85" fill="#000" opacity="0.62"/>
<rect x="259.8" y="345.6" width="0.85" height="0.85" fill="#000" opacity="0.62"/>
<rect x="260.9" y="344.8" width="0.85" height="0.85" fill="#000" opacity="0.60"/>
<rect x="258.0" y="347.3" width="0.85" height="0.85" fill="#000" opacity="0.41"/>
<rect x="259.9" y="349.3" width="0.85" height="0.85" fill="#000" opacity="0.65"/>
<rect x="252.2" y="340.6" width="0.85" height="0.85" fill="#000" opacity="0.68"/>
<rect x="256.0" y="340.6" width="0.85" height="0.85" fill="#000" opacity="0.77"/>
<rect x="257.1" y="341.2" width="0.85" height="0.85" fill="#000" opacity="0.63"/>
<rect x="258.6" y="346.3" width="0.85" height="0.85" fill="#000" opacity="0.60"/>
<rect x="259.2" y="352.6" width="0.85" height="0.85" fill="#000" opacity="0.36"/>
<rect x="260.9" y="316.0" width="0.85" height="0.85" fill="#000" opacity="0.41"/>
<rect x="265.7" y="315.4" width="0.85" height="0.85" fill="#000" opacity="0.40"/>
<rect x="259.0" y="322.7" width="0.85" height="0.85" fill="#000" opacity="0.21"/>
<rect x="253.3" y="329.5" width="0.85" height="0.85" fill="#000" opacity="0.29"/>
<rect x="258.7" y="322.7" width="0.85" height="0.85" fill="#000" opacity="0.32"/>
<rect x="261.6" y="318.8" width="0.85" height="0.85" fill="#000" opacity="0.45"/>
<rect x="260.6" y="323.3" width="0.85" height="0.85" fill="#000" opacity="0.25"/>
<rect x="259.5" y="320.8" width="0.85" height="0.85" fill="#000" opacity="0.48"/>
<rect x="256.9" y="322.5" width="0.85" height="0.85" fill="#000" opacity="0.49"/>
<rect x="255.9" y="327.8" width="0.85" height="0.85" fill="#000" opacity="0.22"/>
<rect x="262.1" y="328.8" width="0.85" height="0.85" fill="#000" opacity="0.28"/>
<rect x="260.4" y="327.2" width="0.85" height="0.85" fill="#000" opacity="0.40"/>
<rect x="266.3" y="317.9" width="0.85" height="0.85" fill="#000" opacity="0.50"/>
<rect x="256.5" y="317.4" width="0.85" height="0.85" fill="#000" opacity="0.25"/>
<rect x="258.5" y="316.1" width="0.85" height="0.85" fill="#000" opacity="0.31"/>
<rect x="260.5" y="320.5" width="0.85" height="0.85" fill="#000" opacity="0.24"/>
<rect x="259.7" y="325.6" width="0.85" height="0.85" fill="#000" opacity="0.38"/>
<rect x="259.4" y="319.9" width="0.85" height="0.85" fill="#000" opacity="0.35"/>
<rect x="256.3" y="319.8" width="0.85" height="0.85" fill="#000" opacity="0.32"/>
<rect x="258.6" y="322.7" width="0.85" height="0.85" fill="#000" opacity="0.22"/>
<rect x="257.4" y="324.9" width="0.85" height="0.85" fill="#000" opacity="0.43"/>
<rect x="259.1" y="325.4" width="0.85" height="0.85" fill="#000" opacity="0.34"/>
<rect x="257.3" y="326.2" width="0.85" height="0.85" fill="#000" opacity="0.43"/>
<rect x="259.6" y="331.1" width="0.85" height="0.85" fill="#000" opacity="0.45"/>
<rect x="256.3" y="324.9" width="0.85" height="0.85" fill="#000" opacity="0.48"/>
<rect x="257.8" y="320.9" width="0.85" height="0.85" fill="#000" opacity="0.22"/>
<rect x="260.9" y="325.4" width="0.85" height="0.85" fill="#000" opacity="0.23"/>
<rect x="257.5" y="318.4" width="0.85" height="0.85" fill="#000" opacity="0.29"/>
<rect x="253.4" y="322.0" width="0.85" height="0.85" fill="#000" opacity="0.27"/>
<rect x="260.2" y="326.9" width="0.85" height="0.85" fill="#000" opacity="0.30"/>
<rect x="262.2" y="318.4" width="0.85" height="0.85" fill="#000" opacity="0.33"/>
<rect x="259.4" y="324.4" width="0.85" height="0.85" fill="#000" opacity="0.24"/>
<rect x="261.0" y="316.5" width="0.85" height="0.85" fill="#000" opacity="0.25"/>
<rect x="258.4" y="321.6" width="0.85" height="0.85" fill="#000" opacity="0.35"/>
<rect x="258.4" y="325.2" width="0.85" height="0.85" fill="#000" opacity="0.42"/>
<rect x="258.4" y="316.6" width="0.85" height="0.85" fill="#000" opacity="0.25"/>
<rect x="257.8" y="317.9" width="0.85" height="0.85" fill="#000" opacity="0.40"/>
<rect x="263.3" y="329.5" width="0.85" height="0.85" fill="#000" opacity="0.20"/>
<rect x="259.4" y="328.5" width="0.85" height="0.85" fill="#000" opacity="0.26"/>
<rect x="262.1" y="327.4" width="0.85" height="0.85" fill="#000" opacity="0.50"/>
<rect x="258.0" y="326.7" width="0.85" height="0.85" fill="#000" opacity="0.40"/>
<rect x="259.4" y="328.5" width="0.85" height="0.85" fill="#000" opacity="0.41"/>
<rect x="257.7" y="324.3" width="0.85" height="0.85" fill="#000" opacity="0.22"/>
<rect x="251.9" y="318.5" width="0.85" height="0.85" fill="#000" opacity="0.48"/>
<rect x="261.3" y="326.8" width="0.85" height="0.85" fill="#000" opacity="0.35"/>
<rect x="260.2" y="330.7" width="0.85" height="0.85" fill="#000" opacity="0.35"/>
<rect x="259.7" y="318.7" width="0.85" height="0.85" fill="#000" opacity="0.48"/>
<rect x="260.1" y="317.3" width="0.85" height="0.85" fill="#000" opacity="0.24"/>
<rect x="257.8" y="323.3" width="0.85" height="0.85" fill="#000" opacity="0.41"/>
<rect x="258.0" y="316.2" width="0.85" height="0.85" fill="#000" opacity="0.49"/>
<rect x="262.7" y="325.4" width="0.85" height="0.85" fill="#000" opacity="0.44"/>
<rect x="260.6" y="326.2" width="0.85" height="0.85" fill="#000" opacity="0.22"/>
<path d="M371.3 227.3 V327.3 M366.3 327.3 H517.5" fill="none" stroke="#000" stroke-width="1.5"/>
<line x1="366.3" y1="327.3" x2="371.3" y2="327.3" stroke="#000" stroke-width="1.5"/>
<text x="361" y="331.9" font-size="10.9" text-anchor="end" font-weight="normal" >0</text>
<line x1="366.3" y1="307.40000000000003" x2="371.3" y2="307.40000000000003" stroke="#000" stroke-width="1.5"/>
<text x="361" y="311.62" font-size="10.9" text-anchor="end" font-weight="normal" >20</text>
<line x1="366.3" y1="287.5" x2="371.3" y2="287.5" stroke="#000" stroke-width="1.5"/>
<text x="361" y="291.34" font-size="10.9" text-anchor="end" font-weight="normal" >40</text>
<line x1="366.3" y1="267.6" x2="371.3" y2="267.6" stroke="#000" stroke-width="1.5"/>
<text x="361" y="271.05999999999995" font-size="10.9" text-anchor="end" font-weight="normal" >60</text>
<line x1="366.3" y1="247.70000000000002" x2="371.3" y2="247.70000000000002" stroke="#000" stroke-width="1.5"/>
<text x="361" y="250.77999999999997" font-size="10.9" text-anchor="end" font-weight="normal" >80</text>
<line x1="366.3" y1="227.8" x2="371.3" y2="227.8" stroke="#000" stroke-width="1.5"/>
<text x="361" y="230.49999999999997" font-size="10.9" text-anchor="end" font-weight="normal" >100</text>
<rect x="383.7" y="227.9" width="27.6" height="99.4" fill="#000"/>
<rect x="450.7" y="227.9" width="27.6" height="99.4" fill="#000"/>
<rect x="411.3" y="284.2" width="26.2" height="43.10000000000002" fill="#fff" stroke="#000" stroke-width="1.5"/>
<rect x="478.3" y="285" width="26.2" height="42.30000000000001" fill="#fff" stroke="#000" stroke-width="1.5"/>
<path d="M424.3 284 V278.7 M417 278.7 H431.3" stroke="#000" stroke-width="1.5" fill="none"/>
<path d="M491.3 285 V277.5 M483.8 277.5 H498.3" stroke="#000" stroke-width="1.5" fill="none"/>
<path d="M424.3 272.2 L424.30 268.60 M424.3 272.2 L427.72 271.09 M424.3 272.2 L426.42 275.11 M424.3 272.2 L422.18 275.11 M424.3 272.2 L420.88 271.09 " stroke="#000" stroke-width="1.5" fill="none"/>
<path d="M491.3 271.6 L491.30 268.00 M491.3 271.6 L494.72 270.49 M491.3 271.6 L493.42 274.51 M491.3 271.6 L489.18 274.51 M491.3 271.6 L487.88 270.49 " stroke="#000" stroke-width="1.5" fill="none"/>
<text x="394.4" y="343.9" font-size="11.2" text-anchor="middle" font-weight="normal" >suB</text>
<text x="423.4" y="343.9" font-size="11.2" text-anchor="middle" font-weight="normal" >PTX</text>
<text x="460.6" y="343.9" font-size="11.2" text-anchor="middle" font-weight="normal" >suB</text>
<text x="492.8" y="343.9" font-size="11.2" text-anchor="middle" font-weight="normal" >PTX</text>
<path d="M380 356.5 H440.8 M448.8 356.5 H510" stroke="#111" stroke-width="1" fill="none"/>
<text x="410.6" y="370.0" font-size="11.2" text-anchor="middle" font-weight="normal" >10 nM DBY</text>
<text x="482.5" y="370.0" font-size="11.2" text-anchor="middle" font-weight="normal" >100 nM DBY</text>
<text transform="translate(323.7,279.3) rotate(-90)" font-size="11.3" text-anchor="middle">CD69 expression</text>
<text transform="translate(337.5,277.9) rotate(-90)" font-size="11.3" text-anchor="middle">(% of control MFI)</text>
</svg>
</body></html>
